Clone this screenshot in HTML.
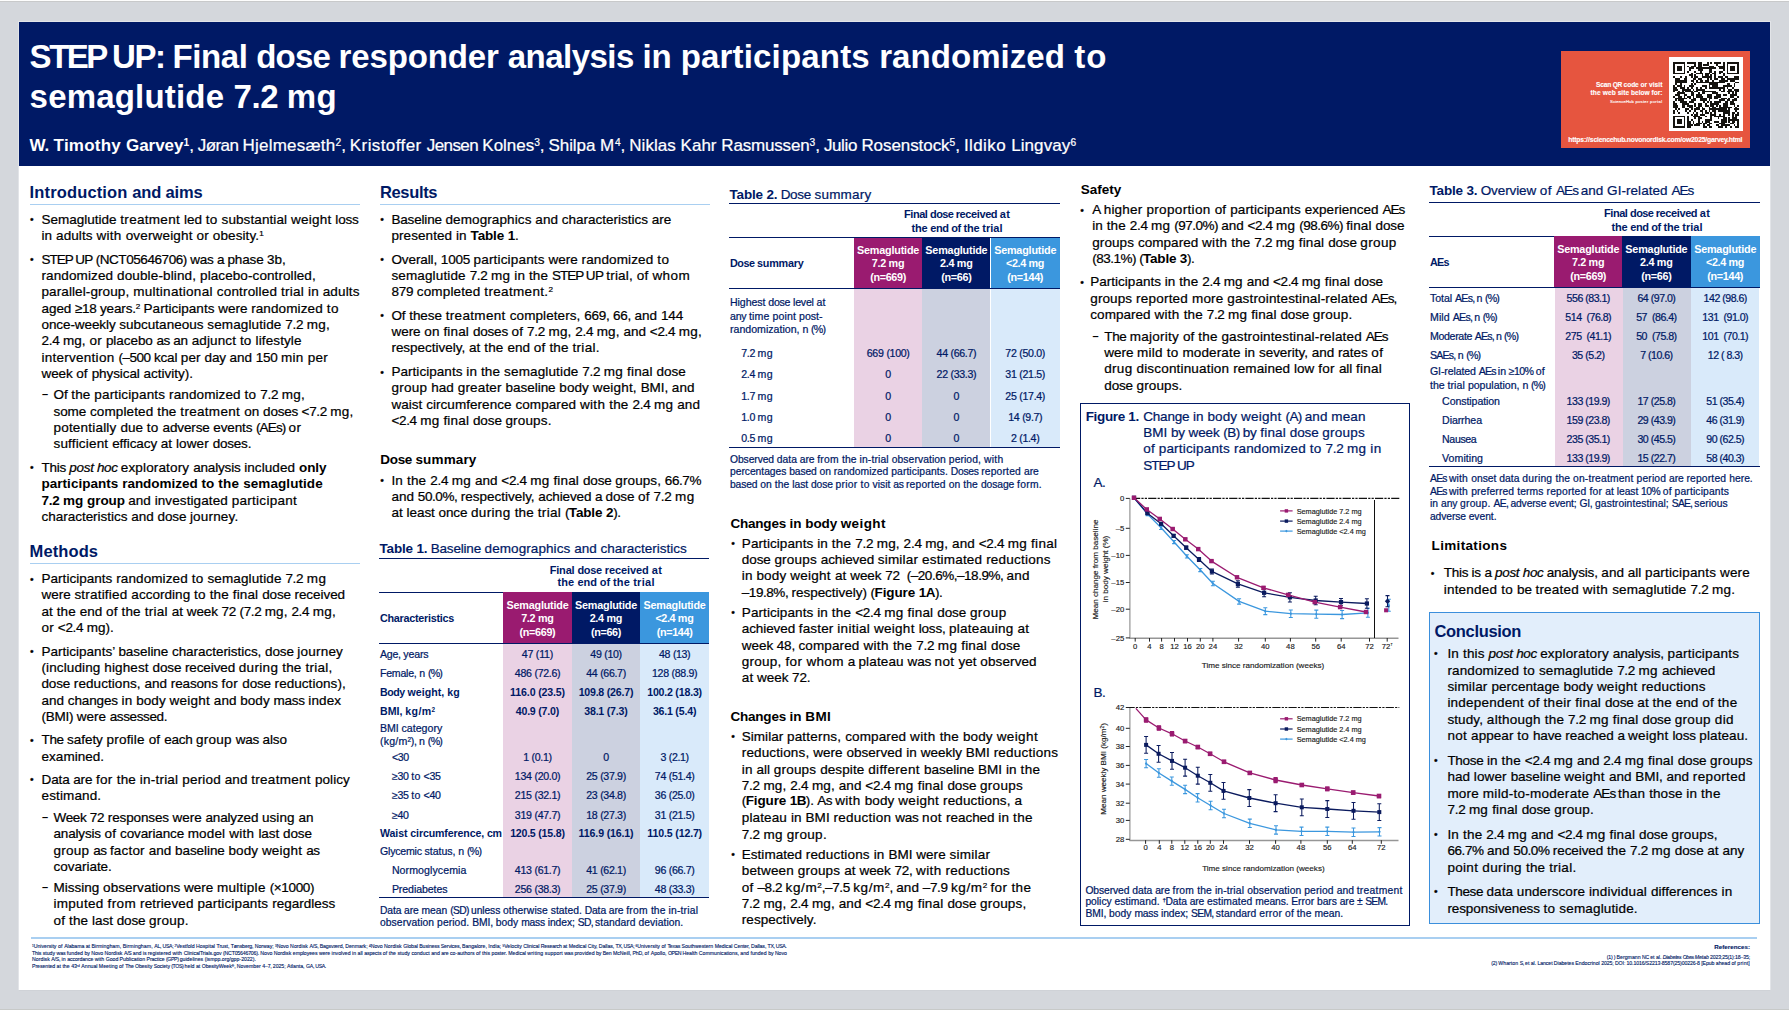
<!DOCTYPE html>
<html lang="en"><head><meta charset="utf-8"><title>STEP UP poster</title>
<style>
html,body{margin:0;padding:0}
body{width:1789px;height:1010px;overflow:hidden;background:#d4d7dc;position:relative;font-family:'Liberation Sans',sans-serif}
.r{position:absolute}
.t{position:absolute;white-space:pre;line-height:1;margin:0}
sup{font-size:60%;vertical-align:baseline;position:relative;top:-0.45em;line-height:0}
svg text{font-family:'Liberation Sans',sans-serif;fill:#1a1a1a;stroke:#1a1a1a;stroke-width:0.15px}
.tk{font-size:7.7px}.ax{font-size:8.1px}.lg{font-size:7.3px}
.k53{letter-spacing:-2.47px}
.k161{letter-spacing:-1.39px}
.k199{letter-spacing:-1.01px}
.k206{letter-spacing:-0.94px}
.k207{letter-spacing:-0.93px}
.k209{letter-spacing:-0.91px}
.k216{letter-spacing:-0.84px}
.k219{letter-spacing:-0.81px}
.k221{letter-spacing:-0.79px}
.k223{letter-spacing:-0.77px}
.k224{letter-spacing:-0.76px}
.k226{letter-spacing:-0.74px}
.k228{letter-spacing:-0.72px}
.k230{letter-spacing:-0.70px}
.k234{letter-spacing:-0.66px}
.k237{letter-spacing:-0.63px}
.k238{letter-spacing:-0.62px}
.k239{letter-spacing:-0.61px}
.k241{letter-spacing:-0.59px}
.k242{letter-spacing:-0.58px}
.k243{letter-spacing:-0.57px}
.k244{letter-spacing:-0.56px}
.k245{letter-spacing:-0.55px}
.k246{letter-spacing:-0.54px}
.k247{letter-spacing:-0.53px}
.k248{letter-spacing:-0.52px}
.k249{letter-spacing:-0.51px}
.k250{letter-spacing:-0.50px}
.k251{letter-spacing:-0.49px}
.k253{letter-spacing:-0.47px}
.k254{letter-spacing:-0.46px}
.k255{letter-spacing:-0.45px}
.k256{letter-spacing:-0.44px}
.k257{letter-spacing:-0.43px}
.k258{letter-spacing:-0.42px}
.k259{letter-spacing:-0.41px}
.k260{letter-spacing:-0.40px}
.k261{letter-spacing:-0.39px}
.k263{letter-spacing:-0.37px}
.k264{letter-spacing:-0.36px}
.k265{letter-spacing:-0.35px}
.k266{letter-spacing:-0.34px}
.k267{letter-spacing:-0.33px}
.k268{letter-spacing:-0.32px}
.k269{letter-spacing:-0.31px}
.k270{letter-spacing:-0.30px}
.k271{letter-spacing:-0.29px}
.k272{letter-spacing:-0.28px}
.k273{letter-spacing:-0.27px}
.k274{letter-spacing:-0.26px}
.k275{letter-spacing:-0.25px}
.k276{letter-spacing:-0.24px}
.k277{letter-spacing:-0.23px}
.k278{letter-spacing:-0.22px}
.k279{letter-spacing:-0.21px}
.k280{letter-spacing:-0.20px}
.k281{letter-spacing:-0.19px}
.k282{letter-spacing:-0.18px}
.k283{letter-spacing:-0.17px}
.k284{letter-spacing:-0.16px}
.k285{letter-spacing:-0.15px}
.k286{letter-spacing:-0.14px}
.k287{letter-spacing:-0.13px}
.k288{letter-spacing:-0.12px}
.k289{letter-spacing:-0.11px}
.k290{letter-spacing:-0.10px}
.k291{letter-spacing:-0.09px}
.k292{letter-spacing:-0.08px}
.k293{letter-spacing:-0.07px}
.k294{letter-spacing:-0.06px}
.k295{letter-spacing:-0.05px}
.k296{letter-spacing:-0.04px}
.k297{letter-spacing:-0.03px}
.k298{letter-spacing:-0.02px}
.k299{letter-spacing:-0.01px}
.k301{letter-spacing:0.01px}
.k302{letter-spacing:0.02px}
.k303{letter-spacing:0.03px}
.k304{letter-spacing:0.04px}
.k305{letter-spacing:0.05px}
.k306{letter-spacing:0.06px}
.k307{letter-spacing:0.07px}
.k308{letter-spacing:0.08px}
.k309{letter-spacing:0.09px}
.k310{letter-spacing:0.10px}
.k311{letter-spacing:0.11px}
.k312{letter-spacing:0.12px}
.k313{letter-spacing:0.13px}
.k314{letter-spacing:0.14px}
.k315{letter-spacing:0.15px}
.k316{letter-spacing:0.16px}
.k317{letter-spacing:0.17px}
.k318{letter-spacing:0.18px}
.k319{letter-spacing:0.19px}
.k320{letter-spacing:0.20px}
.k321{letter-spacing:0.21px}
.k322{letter-spacing:0.22px}
.k323{letter-spacing:0.23px}
.k324{letter-spacing:0.24px}
.k325{letter-spacing:0.25px}
.k326{letter-spacing:0.26px}
.k327{letter-spacing:0.27px}
.k328{letter-spacing:0.28px}
.k329{letter-spacing:0.29px}
.k330{letter-spacing:0.30px}
.k331{letter-spacing:0.31px}
.k332{letter-spacing:0.32px}
.k333{letter-spacing:0.33px}
.k334{letter-spacing:0.34px}
.k335{letter-spacing:0.35px}
.k336{letter-spacing:0.36px}
.k337{letter-spacing:0.37px}
.k338{letter-spacing:0.38px}
.k339{letter-spacing:0.39px}
.k340{letter-spacing:0.40px}
.k341{letter-spacing:0.41px}
.k342{letter-spacing:0.42px}
.k343{letter-spacing:0.43px}
.k345{letter-spacing:0.45px}
.k351{letter-spacing:0.51px}
.k355{letter-spacing:0.55px}
.k356{letter-spacing:0.56px}
.k358{letter-spacing:0.58px}
.k362{letter-spacing:0.62px}
.k364{letter-spacing:0.64px}
.k378{letter-spacing:0.78px}
.k410{letter-spacing:1.10px}
.title{font-size:33px;font-weight:bold;color:#fff;}
.auth{font-size:17px;font-weight:normal;color:#fff;-webkit-text-stroke:0.22px currentColor;}
.h1{font-size:16.5px;font-weight:bold;color:#001965;}
.h2{font-size:13.5px;font-weight:bold;color:#000;}
.body{font-size:13.5px;font-weight:normal;color:#000;-webkit-text-stroke:0.22px currentColor;}
.bul{font-size:10.5px;font-weight:normal;color:#000;-webkit-text-stroke:0.22px currentColor;}
.dash{font-size:11px;font-weight:bold;color:#000;}
.tt{font-size:13.5px;font-weight:normal;color:#001965;-webkit-text-stroke:0.22px currentColor;}
.fig{font-size:13.5px;font-weight:normal;color:#001965;-webkit-text-stroke:0.22px currentColor;}
.thc{font-size:11px;font-weight:bold;color:#001965;}
.th{font-size:10.8px;font-weight:bold;color:#fff;}
.thl{font-size:10.8px;font-weight:bold;color:#001965;}
.td{font-size:10.6px;font-weight:normal;color:#001965;-webkit-text-stroke:0.22px currentColor;}
.tdb{font-size:10.6px;font-weight:bold;color:#001965;}
.fn{font-size:10.3px;font-weight:normal;color:#001965;-webkit-text-stroke:0.22px currentColor;}
.foot{font-size:5.2px;font-weight:normal;color:#001965;-webkit-text-stroke:0.12px currentColor;}
.footb{font-size:6.2px;font-weight:bold;color:#001965;-webkit-text-stroke:0.12px currentColor;}
.qr1{font-size:6.6px;font-weight:bold;color:#fff;-webkit-text-stroke:0.12px currentColor;}
.qr2{font-size:4.2px;font-weight:normal;color:#fff;-webkit-text-stroke:0.12px currentColor;}
.qr3{font-size:6.8px;font-weight:bold;color:#fff;-webkit-text-stroke:0.12px currentColor;}
.t b{-webkit-text-stroke:0}
</style></head><body>
<div class="r" style="left:0;top:0;width:1789px;height:1px;background:#fdfdfd"></div>
<div class="r" style="left:0;top:1px;width:1789px;height:1px;background:#c8c9ca"></div>
<div class="r" style="left:0;top:1008.7px;width:1789px;height:1.3px;background:#c7c9c8"></div>
<div class="r" style="left:18.0px;top:21.0px;width:1753.0px;height:969.0px;background:#e2e4e8;"></div>
<div class="r" style="left:19.0px;top:22.0px;width:1751.0px;height:968.0px;background:#fff;"></div>
<div class="r" style="left:19.0px;top:990.0px;width:1751.0px;height:1.0px;background:#cfd2d7;"></div>
<div class="r" style="left:19.0px;top:22.0px;width:1751.0px;height:144.0px;background:#001965;"></div>
<div class="r" style="left:1561.0px;top:51.0px;width:189.0px;height:97.0px;background:#e6553f;"></div>
<div class="r" style="left:1669.0px;top:57.0px;width:74.0px;height:74.0px;background:#fff;"></div>
<div class="r" style="left:29.5px;top:204.2px;width:330.5px;height:1.1px;background:#a9cff1;"></div>
<div class="r" style="left:29.5px;top:562.8px;width:330.5px;height:1.1px;background:#a9cff1;"></div>
<div class="r" style="left:379.5px;top:204.2px;width:330.5px;height:1.1px;background:#a9cff1;"></div>
<div class="r" style="left:31.3px;top:937.0px;width:1725.5px;height:1.6px;background:#a9cff1;"></div>
<div class="r" style="left:1080.2px;top:403.0px;width:329.6px;height:523.0px;background:transparent;border:1.5px solid #001965;box-sizing:border-box"></div>
<div class="r" style="left:1429.0px;top:612.0px;width:331.2px;height:312.3px;background:#e2eefb;border:1.5px solid #3b8fdc;box-sizing:border-box"></div>
<div class="r" style="left:379.0px;top:558.0px;width:330.0px;height:1.2px;background:#001965;"></div>
<div class="r" style="left:379.0px;top:591.8px;width:330.0px;height:1.2px;background:#001965;"></div>
<div class="r" style="left:503.2px;top:592.4px;width:68.6px;height:50.2px;background:#9a1b70;"></div>
<div class="r" style="left:571.8px;top:592.4px;width:68.4px;height:50.2px;background:#001965;"></div>
<div class="r" style="left:640.2px;top:592.4px;width:68.8px;height:50.2px;background:#3b97de;"></div>
<div class="r" style="left:503.2px;top:643.6px;width:68.6px;height:253.8px;background:#ead2e4;"></div>
<div class="r" style="left:571.8px;top:643.6px;width:68.4px;height:253.8px;background:#ccd1e0;"></div>
<div class="r" style="left:640.2px;top:643.6px;width:68.8px;height:253.8px;background:#d9eafa;"></div>
<div class="r" style="left:379.0px;top:642.6px;width:330.0px;height:1.0px;background:#001965;"></div>
<div class="r" style="left:379.0px;top:896.8px;width:330.0px;height:1.2px;background:#001965;"></div>
<div class="r" style="left:729.0px;top:202.8px;width:331.0px;height:1.2px;background:#001965;"></div>
<div class="r" style="left:729.0px;top:237.0px;width:331.0px;height:1.2px;background:#001965;"></div>
<div class="r" style="left:854.0px;top:237.6px;width:68.3px;height:50.2px;background:#9a1b70;"></div>
<div class="r" style="left:922.3px;top:237.6px;width:68.2px;height:50.2px;background:#001965;"></div>
<div class="r" style="left:990.5px;top:237.6px;width:69.5px;height:50.2px;background:#3b97de;"></div>
<div class="r" style="left:854.0px;top:288.8px;width:68.3px;height:158.4px;background:#ead2e4;"></div>
<div class="r" style="left:922.3px;top:288.8px;width:68.2px;height:158.4px;background:#ccd1e0;"></div>
<div class="r" style="left:990.5px;top:288.8px;width:69.5px;height:158.4px;background:#d9eafa;"></div>
<div class="r" style="left:729.0px;top:287.8px;width:331.0px;height:1.0px;background:#001965;"></div>
<div class="r" style="left:729.0px;top:446.6px;width:331.0px;height:1.2px;background:#001965;"></div>
<div class="r" style="left:1429.0px;top:202.0px;width:330.6px;height:1.2px;background:#001965;"></div>
<div class="r" style="left:1429.0px;top:235.6px;width:330.6px;height:1.2px;background:#001965;"></div>
<div class="r" style="left:1554.4px;top:236.2px;width:67.6px;height:50.9px;background:#9a1b70;"></div>
<div class="r" style="left:1622.0px;top:236.2px;width:68.8px;height:50.9px;background:#001965;"></div>
<div class="r" style="left:1690.8px;top:236.2px;width:68.8px;height:50.9px;background:#3b97de;"></div>
<div class="r" style="left:1555.2px;top:288.1px;width:67.7px;height:178.5px;background:#ead2e4;"></div>
<div class="r" style="left:1622.9px;top:288.1px;width:67.8px;height:178.5px;background:#ccd1e0;"></div>
<div class="r" style="left:1690.7px;top:288.1px;width:68.6px;height:178.5px;background:#d9eafa;"></div>
<div class="r" style="left:1429.0px;top:287.1px;width:330.6px;height:1.0px;background:#001965;"></div>
<div class="r" style="left:1429.0px;top:466.0px;width:330.6px;height:1.2px;background:#001965;"></div>
<svg class="r" style="left:0;top:0" width="1789" height="1010" viewBox="0 0 1789 1010">
<path d="M1129.9 498.4V638.6" fill="none" stroke="#8a8a8a" stroke-width="1.1"/>
<path d="M1129.4 638.2H1398.5" fill="none" stroke="#969696" stroke-width="1.5"/>
<path d="M1132 498.4H1399.3" stroke="#111" stroke-width="1.2" stroke-dasharray="8.2 1.2 2.2 1.2 2.2 1.2"/>
<path d="M1374.5 500V638" stroke="#111" stroke-width="1"/>
<path d="M1125.8 498.4h4" stroke="#222" stroke-width="1"/>
<text x="1124.2" y="501.0" class="tk" text-anchor="end">0</text>
<path d="M1125.8 528.3h4" stroke="#222" stroke-width="1"/>
<text x="1124.2" y="530.9" class="tk" text-anchor="end">–5</text>
<path d="M1125.8 555.4h4" stroke="#222" stroke-width="1"/>
<text x="1124.2" y="558.0" class="tk" text-anchor="end">–10</text>
<path d="M1125.8 582.5h4" stroke="#222" stroke-width="1"/>
<text x="1124.2" y="585.1" class="tk" text-anchor="end">–15</text>
<path d="M1125.8 609.2h4" stroke="#222" stroke-width="1"/>
<text x="1124.2" y="611.8" class="tk" text-anchor="end">–20</text>
<path d="M1125.8 637.9h4" stroke="#222" stroke-width="1"/>
<text x="1124.2" y="640.5" class="tk" text-anchor="end">–25</text>
<path d="M1135.2 638v3.6" stroke="#222" stroke-width="1"/>
<text x="1135.2" y="648.6" class="tk" text-anchor="middle">0</text>
<path d="M1149.5 638v3.6" stroke="#222" stroke-width="1"/>
<text x="1149.5" y="648.6" class="tk" text-anchor="middle">4</text>
<path d="M1161.6 638v3.6" stroke="#222" stroke-width="1"/>
<text x="1161.6" y="648.6" class="tk" text-anchor="middle">8</text>
<path d="M1174.5 638v3.6" stroke="#222" stroke-width="1"/>
<text x="1174.5" y="648.6" class="tk" text-anchor="middle">12</text>
<path d="M1187.5 638v3.6" stroke="#222" stroke-width="1"/>
<text x="1187.5" y="648.6" class="tk" text-anchor="middle">16</text>
<path d="M1200.3 638v3.6" stroke="#222" stroke-width="1"/>
<text x="1200.3" y="648.6" class="tk" text-anchor="middle">20</text>
<path d="M1212.9 638v3.6" stroke="#222" stroke-width="1"/>
<text x="1212.9" y="648.6" class="tk" text-anchor="middle">24</text>
<path d="M1238.6 638v3.6" stroke="#222" stroke-width="1"/>
<text x="1238.6" y="648.6" class="tk" text-anchor="middle">32</text>
<path d="M1265.3 638v3.6" stroke="#222" stroke-width="1"/>
<text x="1265.3" y="648.6" class="tk" text-anchor="middle">40</text>
<path d="M1290.4 638v3.6" stroke="#222" stroke-width="1"/>
<text x="1290.4" y="648.6" class="tk" text-anchor="middle">48</text>
<path d="M1315.7 638v3.6" stroke="#222" stroke-width="1"/>
<text x="1315.7" y="648.6" class="tk" text-anchor="middle">56</text>
<path d="M1341.2 638v3.6" stroke="#222" stroke-width="1"/>
<text x="1341.2" y="648.6" class="tk" text-anchor="middle">64</text>
<path d="M1369.5 638v3.6" stroke="#222" stroke-width="1"/>
<text x="1369.5" y="648.6" class="tk" text-anchor="middle">72</text>
<path d="M1387.2 638v3.6" stroke="#222" stroke-width="1"/>
<text x="1387.2" y="648.6" class="tk" text-anchor="middle">72<tspan dy="-2.2" font-size="3.8">†</tspan></text>
<text x="1263" y="668" class="ax" text-anchor="middle">Time since randomization (weeks)</text>
<text transform="translate(1098.3 569.5) rotate(-90)" class="ax" text-anchor="middle">Mean change from baseline</text>
<text transform="translate(1108 569) rotate(-90)" class="ax" text-anchor="middle">in body weight (%)</text>
<path d="M1134.0 497.8 L1147.7 514.4 L1161.1 527.8 L1174.1 542.0 L1186.9 556.3 L1200.3 570.0 L1212.9 583.5 L1239.1 601.4 L1265.3 611.2 L1290.8 613.7 L1316.3 614.2 L1342.1 614.5 L1367.9 612.8" fill="none" stroke="#3b97de" stroke-width="1.3" stroke-linejoin="round"/>
<path d="M1132.7 497.8L1134.0 496.2L1135.3 497.8L1134.0 499.4Z" fill="#3b97de"/>
<path d="M1147.7 513.2V515.6M1145.7 513.2h4M1145.7 515.6h4" stroke="#3b97de" stroke-width="1.05" fill="none"/>
<path d="M1146.4 514.4L1147.7 512.8L1149.0 514.4L1147.7 516.0Z" fill="#3b97de"/>
<path d="M1161.1 526.2V529.4M1159.1 526.2h4M1159.1 529.4h4" stroke="#3b97de" stroke-width="1.05" fill="none"/>
<path d="M1159.8 527.8L1161.1 526.2L1162.4 527.8L1161.1 529.4Z" fill="#3b97de"/>
<path d="M1174.1 540.4V543.6M1172.1 540.4h4M1172.1 543.6h4" stroke="#3b97de" stroke-width="1.05" fill="none"/>
<path d="M1172.8 542.0L1174.1 540.4L1175.4 542.0L1174.1 543.6Z" fill="#3b97de"/>
<path d="M1186.9 554.7V557.9M1184.9 554.7h4M1184.9 557.9h4" stroke="#3b97de" stroke-width="1.05" fill="none"/>
<path d="M1185.6 556.3L1186.9 554.7L1188.2 556.3L1186.9 557.9Z" fill="#3b97de"/>
<path d="M1200.3 568.4V571.6M1198.3 568.4h4M1198.3 571.6h4" stroke="#3b97de" stroke-width="1.05" fill="none"/>
<path d="M1199.0 570.0L1200.3 568.4L1201.6 570.0L1200.3 571.6Z" fill="#3b97de"/>
<path d="M1212.9 581.3V585.7M1210.9 581.3h4M1210.9 585.7h4" stroke="#3b97de" stroke-width="1.05" fill="none"/>
<path d="M1211.6 583.5L1212.9 581.9L1214.2 583.5L1212.9 585.1Z" fill="#3b97de"/>
<path d="M1239.1 598.7V604.1M1237.1 598.7h4M1237.1 604.1h4" stroke="#3b97de" stroke-width="1.05" fill="none"/>
<path d="M1237.8 601.4L1239.1 599.8L1240.4 601.4L1239.1 603.0Z" fill="#3b97de"/>
<path d="M1265.3 607.8V614.6M1263.3 607.8h4M1263.3 614.6h4" stroke="#3b97de" stroke-width="1.05" fill="none"/>
<path d="M1264.0 611.2L1265.3 609.6L1266.6 611.2L1265.3 612.8Z" fill="#3b97de"/>
<path d="M1290.8 609.9V617.5M1288.8 609.9h4M1288.8 617.5h4" stroke="#3b97de" stroke-width="1.05" fill="none"/>
<path d="M1289.5 613.7L1290.8 612.1L1292.1 613.7L1290.8 615.3Z" fill="#3b97de"/>
<path d="M1316.3 610.1V618.3M1314.3 610.1h4M1314.3 618.3h4" stroke="#3b97de" stroke-width="1.05" fill="none"/>
<path d="M1315.0 614.2L1316.3 612.6L1317.6 614.2L1316.3 615.8Z" fill="#3b97de"/>
<path d="M1342.1 610.4V618.6M1340.1 610.4h4M1340.1 618.6h4" stroke="#3b97de" stroke-width="1.05" fill="none"/>
<path d="M1340.8 614.5L1342.1 612.9L1343.4 614.5L1342.1 616.1Z" fill="#3b97de"/>
<path d="M1367.9 608.3V617.3M1365.9 608.3h4M1365.9 617.3h4" stroke="#3b97de" stroke-width="1.05" fill="none"/>
<path d="M1366.6 612.8L1367.9 611.2L1369.2 612.8L1367.9 614.4Z" fill="#3b97de"/>
<path d="M1134.0 497.8 L1147.4 513.2 L1161.1 523.8 L1173.6 535.8 L1186.2 547.7 L1199.0 559.5 L1211.9 571.4 L1237.9 583.9 L1264.1 592.8 L1289.9 597.3 L1315.7 600.5 L1341.0 602.1 L1366.9 603.5" fill="none" stroke="#0b1b5e" stroke-width="1.3" stroke-linejoin="round"/>
<rect x="1131.9" y="495.7" width="4.2" height="4.2" fill="#0b1b5e"/>
<path d="M1147.4 512.3V514.1M1145.4 512.3h4M1145.4 514.1h4" stroke="#0b1b5e" stroke-width="1.05" fill="none"/>
<rect x="1145.3" y="511.1" width="4.2" height="4.2" fill="#0b1b5e"/>
<path d="M1161.1 522.6V525.0M1159.1 522.6h4M1159.1 525.0h4" stroke="#0b1b5e" stroke-width="1.05" fill="none"/>
<rect x="1159.0" y="521.7" width="4.2" height="4.2" fill="#0b1b5e"/>
<path d="M1173.6 534.4V537.2M1171.6 534.4h4M1171.6 537.2h4" stroke="#0b1b5e" stroke-width="1.05" fill="none"/>
<rect x="1171.5" y="533.7" width="4.2" height="4.2" fill="#0b1b5e"/>
<path d="M1186.2 546.1V549.3M1184.2 546.1h4M1184.2 549.3h4" stroke="#0b1b5e" stroke-width="1.05" fill="none"/>
<rect x="1184.1" y="545.6" width="4.2" height="4.2" fill="#0b1b5e"/>
<path d="M1199.0 557.5V561.5M1197.0 557.5h4M1197.0 561.5h4" stroke="#0b1b5e" stroke-width="1.05" fill="none"/>
<rect x="1196.9" y="557.4" width="4.2" height="4.2" fill="#0b1b5e"/>
<path d="M1211.9 568.9V573.9M1209.9 568.9h4M1209.9 573.9h4" stroke="#0b1b5e" stroke-width="1.05" fill="none"/>
<rect x="1209.8" y="569.3" width="4.2" height="4.2" fill="#0b1b5e"/>
<path d="M1237.9 580.7V587.1M1235.9 580.7h4M1235.9 587.1h4" stroke="#0b1b5e" stroke-width="1.05" fill="none"/>
<rect x="1235.8" y="581.8" width="4.2" height="4.2" fill="#0b1b5e"/>
<path d="M1264.1 588.9V596.7M1262.1 588.9h4M1262.1 596.7h4" stroke="#0b1b5e" stroke-width="1.05" fill="none"/>
<rect x="1262.0" y="590.7" width="4.2" height="4.2" fill="#0b1b5e"/>
<path d="M1289.9 592.7V601.9M1287.9 592.7h4M1287.9 601.9h4" stroke="#0b1b5e" stroke-width="1.05" fill="none"/>
<rect x="1287.8" y="595.2" width="4.2" height="4.2" fill="#0b1b5e"/>
<path d="M1315.7 596.2V604.8M1313.7 596.2h4M1313.7 604.8h4" stroke="#0b1b5e" stroke-width="1.05" fill="none"/>
<rect x="1313.6" y="598.4" width="4.2" height="4.2" fill="#0b1b5e"/>
<path d="M1341.0 598.5V605.7M1339.0 598.5h4M1339.0 605.7h4" stroke="#0b1b5e" stroke-width="1.05" fill="none"/>
<rect x="1338.9" y="600.0" width="4.2" height="4.2" fill="#0b1b5e"/>
<path d="M1366.9 598.7V608.3M1364.9 598.7h4M1364.9 608.3h4" stroke="#0b1b5e" stroke-width="1.05" fill="none"/>
<rect x="1364.8" y="601.4" width="4.2" height="4.2" fill="#0b1b5e"/>
<path d="M1134.0 497.8 L1146.8 509.4 L1159.8 518.9 L1172.7 529.0 L1185.3 539.3 L1198.2 549.1 L1211.5 561.1 L1237.0 577.3 L1263.5 587.8 L1288.1 594.9 L1314.8 602.1 L1340.1 607.1 L1366.0 612.0" fill="none" stroke="#9a1b70" stroke-width="1.3" stroke-linejoin="round"/>
<rect x="1131.8" y="495.6" width="4.4" height="4.4" fill="#9a1b70"/>
<path d="M1146.8 508.7V510.1M1144.8 508.7h4M1144.8 510.1h4" stroke="#9a1b70" stroke-width="1.05" fill="none"/>
<rect x="1144.6" y="507.2" width="4.4" height="4.4" fill="#9a1b70"/>
<path d="M1159.8 518.1V519.7M1157.8 518.1h4M1157.8 519.7h4" stroke="#9a1b70" stroke-width="1.05" fill="none"/>
<rect x="1157.6" y="516.7" width="4.4" height="4.4" fill="#9a1b70"/>
<path d="M1172.7 528.1V529.9M1170.7 528.1h4M1170.7 529.9h4" stroke="#9a1b70" stroke-width="1.05" fill="none"/>
<rect x="1170.5" y="526.8" width="4.4" height="4.4" fill="#9a1b70"/>
<path d="M1185.3 538.3V540.3M1183.3 538.3h4M1183.3 540.3h4" stroke="#9a1b70" stroke-width="1.05" fill="none"/>
<rect x="1183.1" y="537.1" width="4.4" height="4.4" fill="#9a1b70"/>
<path d="M1198.2 548.1V550.1M1196.2 548.1h4M1196.2 550.1h4" stroke="#9a1b70" stroke-width="1.05" fill="none"/>
<rect x="1196.0" y="546.9" width="4.4" height="4.4" fill="#9a1b70"/>
<path d="M1211.5 560.1V562.1M1209.5 560.1h4M1209.5 562.1h4" stroke="#9a1b70" stroke-width="1.05" fill="none"/>
<rect x="1209.3" y="558.9" width="4.4" height="4.4" fill="#9a1b70"/>
<path d="M1237.0 576.3V578.3M1235.0 576.3h4M1235.0 578.3h4" stroke="#9a1b70" stroke-width="1.05" fill="none"/>
<rect x="1234.8" y="575.1" width="4.4" height="4.4" fill="#9a1b70"/>
<path d="M1263.5 586.4V589.2M1261.5 586.4h4M1261.5 589.2h4" stroke="#9a1b70" stroke-width="1.05" fill="none"/>
<rect x="1261.3" y="585.6" width="4.4" height="4.4" fill="#9a1b70"/>
<path d="M1288.1 593.5V596.3M1286.1 593.5h4M1286.1 596.3h4" stroke="#9a1b70" stroke-width="1.05" fill="none"/>
<rect x="1285.9" y="592.7" width="4.4" height="4.4" fill="#9a1b70"/>
<path d="M1314.8 600.7V603.5M1312.8 600.7h4M1312.8 603.5h4" stroke="#9a1b70" stroke-width="1.05" fill="none"/>
<rect x="1312.6" y="599.9" width="4.4" height="4.4" fill="#9a1b70"/>
<path d="M1340.1 605.7V608.5M1338.1 605.7h4M1338.1 608.5h4" stroke="#9a1b70" stroke-width="1.05" fill="none"/>
<rect x="1337.9" y="604.9" width="4.4" height="4.4" fill="#9a1b70"/>
<path d="M1366.0 610.6V613.4M1364.0 610.6h4M1364.0 613.4h4" stroke="#9a1b70" stroke-width="1.05" fill="none"/>
<rect x="1363.8" y="609.8" width="4.4" height="4.4" fill="#9a1b70"/>
<path d="M1388.8 605.3" fill="none" stroke="#3b97de" stroke-width="1.3" stroke-linejoin="round"/>
<path d="M1388.8 599.3V611.3M1386.8 599.3h4M1386.8 611.3h4" stroke="#3b97de" stroke-width="1.05" fill="none"/>
<path d="M1387.5 605.3L1388.8 603.7L1390.1 605.3L1388.8 606.9Z" fill="#3b97de"/>
<path d="M1387.5 601.2" fill="none" stroke="#0b1b5e" stroke-width="1.3" stroke-linejoin="round"/>
<path d="M1387.5 595.6V606.8M1385.5 595.6h4M1385.5 606.8h4" stroke="#0b1b5e" stroke-width="1.05" fill="none"/>
<path d="M1384.8 601.2L1387.5 598.5L1390.2 601.2L1387.5 603.9Z" fill="#0b1b5e"/>
<path d="M1386.1 610.3" fill="none" stroke="#9a1b70" stroke-width="1.3" stroke-linejoin="round"/>
<rect x="1384.1" y="608.3" width="4" height="4" fill="#9a1b70"/>
<path d="M1280.1 510.9h12.5" stroke="#9a1b70" stroke-width="1.2"/>
<rect x="1284.7" y="509.2" width="3.4" height="3.4" fill="#9a1b70"/>
<text x="1296.7" y="513.5" class="lg">Semaglutide 7.2 mg</text>
<path d="M1280.1 521.1h12.5" stroke="#0b1b5e" stroke-width="1.2"/>
<rect x="1284.7" y="519.4" width="3.4" height="3.4" fill="#0b1b5e"/>
<text x="1296.7" y="523.7" class="lg">Semaglutide 2.4 mg</text>
<path d="M1280.1 531.1h12.5" stroke="#3b97de" stroke-width="1.2"/>
<path d="M1285.1 531.1l1.3 -1.4l1.3 1.4l-1.3 1.4Z" fill="#3b97de"/>
<text x="1296.7" y="533.7" class="lg">Semaglutide &lt;2.4 mg</text>
<path d="M1129.9 707.5V840.9" fill="none" stroke="#8a8a8a" stroke-width="1.1"/>
<path d="M1129.4 840.5H1398.5" fill="none" stroke="#969696" stroke-width="1.5"/>
<path d="M1126.5 707.5H1399.3" stroke="#111" stroke-width="1.2" stroke-dasharray="8.2 1.2 2.2 1.2 2.2 1.2"/>
<path d="M1125.8 707.5h4" stroke="#222" stroke-width="1"/>
<text x="1124.2" y="710.1" class="tk" text-anchor="end">42</text>
<path d="M1125.8 728.3h4" stroke="#222" stroke-width="1"/>
<text x="1124.2" y="730.9" class="tk" text-anchor="end">40</text>
<path d="M1125.8 746.5h4" stroke="#222" stroke-width="1"/>
<text x="1124.2" y="749.1" class="tk" text-anchor="end">38</text>
<path d="M1125.8 765.4h4" stroke="#222" stroke-width="1"/>
<text x="1124.2" y="768.0" class="tk" text-anchor="end">36</text>
<path d="M1125.8 784.1h4" stroke="#222" stroke-width="1"/>
<text x="1124.2" y="786.7" class="tk" text-anchor="end">34</text>
<path d="M1125.8 803.2h4" stroke="#222" stroke-width="1"/>
<text x="1124.2" y="805.8" class="tk" text-anchor="end">32</text>
<path d="M1125.8 820.4h4" stroke="#222" stroke-width="1"/>
<text x="1124.2" y="823.0" class="tk" text-anchor="end">30</text>
<path d="M1125.8 839.3h4" stroke="#222" stroke-width="1"/>
<text x="1124.2" y="841.9" class="tk" text-anchor="end">28</text>
<path d="M1145.6 840.2v3.6" stroke="#222" stroke-width="1"/>
<text x="1145.6" y="850.4" class="tk" text-anchor="middle">0</text>
<path d="M1159.3 840.2v3.6" stroke="#222" stroke-width="1"/>
<text x="1159.3" y="850.4" class="tk" text-anchor="middle">4</text>
<path d="M1171.8 840.2v3.6" stroke="#222" stroke-width="1"/>
<text x="1171.8" y="850.4" class="tk" text-anchor="middle">8</text>
<path d="M1184.8 840.2v3.6" stroke="#222" stroke-width="1"/>
<text x="1184.8" y="850.4" class="tk" text-anchor="middle">12</text>
<path d="M1197.8 840.2v3.6" stroke="#222" stroke-width="1"/>
<text x="1197.8" y="850.4" class="tk" text-anchor="middle">16</text>
<path d="M1210.3 840.2v3.6" stroke="#222" stroke-width="1"/>
<text x="1210.3" y="850.4" class="tk" text-anchor="middle">20</text>
<path d="M1223.5 840.2v3.6" stroke="#222" stroke-width="1"/>
<text x="1223.5" y="850.4" class="tk" text-anchor="middle">24</text>
<path d="M1249.5 840.2v3.6" stroke="#222" stroke-width="1"/>
<text x="1249.5" y="850.4" class="tk" text-anchor="middle">32</text>
<path d="M1275.6 840.2v3.6" stroke="#222" stroke-width="1"/>
<text x="1275.6" y="850.4" class="tk" text-anchor="middle">40</text>
<path d="M1300.9 840.2v3.6" stroke="#222" stroke-width="1"/>
<text x="1300.9" y="850.4" class="tk" text-anchor="middle">48</text>
<path d="M1327.3 840.2v3.6" stroke="#222" stroke-width="1"/>
<text x="1327.3" y="850.4" class="tk" text-anchor="middle">56</text>
<path d="M1352.3 840.2v3.6" stroke="#222" stroke-width="1"/>
<text x="1352.3" y="850.4" class="tk" text-anchor="middle">64</text>
<path d="M1381.3 840.2v3.6" stroke="#222" stroke-width="1"/>
<text x="1381.3" y="850.4" class="tk" text-anchor="middle">72</text>
<text x="1263.4" y="871" class="ax" text-anchor="middle">Time since randomization (weeks)</text>
<text transform="translate(1106.4 769) rotate(-90)" class="ax" text-anchor="middle">Mean weekly BMI (kg/m<tspan dy="-2.4" font-size="4.8">2</tspan><tspan dy="2.4">)</tspan></text>
<path d="M1146.1 763.6 L1158.9 773.0 L1171.8 781.1 L1185.1 789.4 L1197.6 797.8 L1210.6 805.5 L1224.0 813.5 L1249.8 823.3 L1276.0 829.9 L1301.5 831.3 L1327.3 831.3 L1353.5 832.2 L1379.5 831.8" fill="none" stroke="#3b97de" stroke-width="1.3" stroke-linejoin="round"/>
<path d="M1146.1 759.4V767.8M1144.1 759.4h4M1144.1 767.8h4" stroke="#3b97de" stroke-width="1.05" fill="none"/>
<path d="M1144.8 763.6L1146.1 762.0L1147.4 763.6L1146.1 765.2Z" fill="#3b97de"/>
<path d="M1158.9 768.8V777.2M1156.9 768.8h4M1156.9 777.2h4" stroke="#3b97de" stroke-width="1.05" fill="none"/>
<path d="M1157.6 773.0L1158.9 771.4L1160.2 773.0L1158.9 774.6Z" fill="#3b97de"/>
<path d="M1171.8 776.9V785.3M1169.8 776.9h4M1169.8 785.3h4" stroke="#3b97de" stroke-width="1.05" fill="none"/>
<path d="M1170.5 781.1L1171.8 779.5L1173.1 781.1L1171.8 782.7Z" fill="#3b97de"/>
<path d="M1185.1 785.2V793.6M1183.1 785.2h4M1183.1 793.6h4" stroke="#3b97de" stroke-width="1.05" fill="none"/>
<path d="M1183.8 789.4L1185.1 787.8L1186.4 789.4L1185.1 791.0Z" fill="#3b97de"/>
<path d="M1197.6 793.6V802.0M1195.6 793.6h4M1195.6 802.0h4" stroke="#3b97de" stroke-width="1.05" fill="none"/>
<path d="M1196.3 797.8L1197.6 796.2L1198.9 797.8L1197.6 799.4Z" fill="#3b97de"/>
<path d="M1210.6 801.3V809.7M1208.6 801.3h4M1208.6 809.7h4" stroke="#3b97de" stroke-width="1.05" fill="none"/>
<path d="M1209.3 805.5L1210.6 803.9L1211.9 805.5L1210.6 807.1Z" fill="#3b97de"/>
<path d="M1224.0 809.3V817.7M1222.0 809.3h4M1222.0 817.7h4" stroke="#3b97de" stroke-width="1.05" fill="none"/>
<path d="M1222.7 813.5L1224.0 811.9L1225.3 813.5L1224.0 815.1Z" fill="#3b97de"/>
<path d="M1249.8 819.1V827.5M1247.8 819.1h4M1247.8 827.5h4" stroke="#3b97de" stroke-width="1.05" fill="none"/>
<path d="M1248.5 823.3L1249.8 821.7L1251.1 823.3L1249.8 824.9Z" fill="#3b97de"/>
<path d="M1276.0 825.7V834.1M1274.0 825.7h4M1274.0 834.1h4" stroke="#3b97de" stroke-width="1.05" fill="none"/>
<path d="M1274.7 829.9L1276.0 828.3L1277.3 829.9L1276.0 831.5Z" fill="#3b97de"/>
<path d="M1301.5 827.1V835.5M1299.5 827.1h4M1299.5 835.5h4" stroke="#3b97de" stroke-width="1.05" fill="none"/>
<path d="M1300.2 831.3L1301.5 829.7L1302.8 831.3L1301.5 832.9Z" fill="#3b97de"/>
<path d="M1327.3 827.1V835.5M1325.3 827.1h4M1325.3 835.5h4" stroke="#3b97de" stroke-width="1.05" fill="none"/>
<path d="M1326.0 831.3L1327.3 829.7L1328.6 831.3L1327.3 832.9Z" fill="#3b97de"/>
<path d="M1353.5 828.0V836.4M1351.5 828.0h4M1351.5 836.4h4" stroke="#3b97de" stroke-width="1.05" fill="none"/>
<path d="M1352.2 832.2L1353.5 830.6L1354.8 832.2L1353.5 833.8Z" fill="#3b97de"/>
<path d="M1379.5 827.6V836.0M1377.5 827.6h4M1377.5 836.0h4" stroke="#3b97de" stroke-width="1.05" fill="none"/>
<path d="M1378.2 831.8L1379.5 830.2L1380.8 831.8L1379.5 833.4Z" fill="#3b97de"/>
<path d="M1146.1 744.9 L1158.6 753.8 L1172.0 760.9 L1185.1 767.7 L1197.8 775.7 L1210.3 782.8 L1223.5 790.9 L1249.3 798.0 L1275.6 803.2 L1301.8 807.3 L1327.3 809.0 L1353.5 810.8 L1379.3 812.1" fill="none" stroke="#0b1b5e" stroke-width="1.3" stroke-linejoin="round"/>
<path d="M1146.1 736.5V753.3M1144.1 736.5h4M1144.1 753.3h4" stroke="#0b1b5e" stroke-width="1.05" fill="none"/>
<rect x="1144.1" y="742.9" width="4" height="4" fill="#0b1b5e"/>
<path d="M1158.6 745.4V762.2M1156.6 745.4h4M1156.6 762.2h4" stroke="#0b1b5e" stroke-width="1.05" fill="none"/>
<rect x="1156.6" y="751.8" width="4" height="4" fill="#0b1b5e"/>
<path d="M1172.0 752.5V769.3M1170.0 752.5h4M1170.0 769.3h4" stroke="#0b1b5e" stroke-width="1.05" fill="none"/>
<rect x="1170.0" y="758.9" width="4" height="4" fill="#0b1b5e"/>
<path d="M1185.1 759.3V776.1M1183.1 759.3h4M1183.1 776.1h4" stroke="#0b1b5e" stroke-width="1.05" fill="none"/>
<rect x="1183.1" y="765.7" width="4" height="4" fill="#0b1b5e"/>
<path d="M1197.8 767.3V784.1M1195.8 767.3h4M1195.8 784.1h4" stroke="#0b1b5e" stroke-width="1.05" fill="none"/>
<rect x="1195.8" y="773.7" width="4" height="4" fill="#0b1b5e"/>
<path d="M1210.3 774.4V791.2M1208.3 774.4h4M1208.3 791.2h4" stroke="#0b1b5e" stroke-width="1.05" fill="none"/>
<rect x="1208.3" y="780.8" width="4" height="4" fill="#0b1b5e"/>
<path d="M1223.5 782.5V799.3M1221.5 782.5h4M1221.5 799.3h4" stroke="#0b1b5e" stroke-width="1.05" fill="none"/>
<rect x="1221.5" y="788.9" width="4" height="4" fill="#0b1b5e"/>
<path d="M1249.3 789.6V806.4M1247.3 789.6h4M1247.3 806.4h4" stroke="#0b1b5e" stroke-width="1.05" fill="none"/>
<rect x="1247.3" y="796.0" width="4" height="4" fill="#0b1b5e"/>
<path d="M1275.6 794.8V811.6M1273.6 794.8h4M1273.6 811.6h4" stroke="#0b1b5e" stroke-width="1.05" fill="none"/>
<rect x="1273.6" y="801.2" width="4" height="4" fill="#0b1b5e"/>
<path d="M1301.8 798.9V815.7M1299.8 798.9h4M1299.8 815.7h4" stroke="#0b1b5e" stroke-width="1.05" fill="none"/>
<rect x="1299.8" y="805.3" width="4" height="4" fill="#0b1b5e"/>
<path d="M1327.3 800.6V817.4M1325.3 800.6h4M1325.3 817.4h4" stroke="#0b1b5e" stroke-width="1.05" fill="none"/>
<rect x="1325.3" y="807.0" width="4" height="4" fill="#0b1b5e"/>
<path d="M1353.5 802.4V819.2M1351.5 802.4h4M1351.5 819.2h4" stroke="#0b1b5e" stroke-width="1.05" fill="none"/>
<rect x="1351.5" y="808.8" width="4" height="4" fill="#0b1b5e"/>
<path d="M1379.3 803.7V820.5M1377.3 803.7h4M1377.3 820.5h4" stroke="#0b1b5e" stroke-width="1.05" fill="none"/>
<rect x="1377.3" y="810.1" width="4" height="4" fill="#0b1b5e"/>
<path d="M1135.8 708.4 L1146.1 719.9 L1158.9 728.0 L1172.0 733.8 L1185.1 741.0 L1197.8 747.0 L1210.1 753.8 L1224.0 761.8 L1249.8 772.9 L1275.6 780.0 L1301.8 785.0 L1327.3 788.9 L1353.2 792.6 L1379.0 796.0" fill="none" stroke="#9a1b70" stroke-width="1.3" stroke-linejoin="round"/>
<path d="M1146.1 717.7V722.1M1144.1 717.7h4M1144.1 722.1h4" stroke="#9a1b70" stroke-width="1.05" fill="none"/>
<rect x="1143.8" y="717.6" width="4.6" height="4.6" fill="#9a1b70"/>
<path d="M1158.9 725.8V730.2M1156.9 725.8h4M1156.9 730.2h4" stroke="#9a1b70" stroke-width="1.05" fill="none"/>
<rect x="1156.6" y="725.7" width="4.6" height="4.6" fill="#9a1b70"/>
<path d="M1172.0 731.6V736.0M1170.0 731.6h4M1170.0 736.0h4" stroke="#9a1b70" stroke-width="1.05" fill="none"/>
<rect x="1169.7" y="731.5" width="4.6" height="4.6" fill="#9a1b70"/>
<path d="M1185.1 739.4V742.6M1183.1 739.4h4M1183.1 742.6h4" stroke="#9a1b70" stroke-width="1.05" fill="none"/>
<rect x="1182.8" y="738.7" width="4.6" height="4.6" fill="#9a1b70"/>
<path d="M1197.8 745.4V748.6M1195.8 745.4h4M1195.8 748.6h4" stroke="#9a1b70" stroke-width="1.05" fill="none"/>
<rect x="1195.5" y="744.7" width="4.6" height="4.6" fill="#9a1b70"/>
<path d="M1210.1 752.2V755.4M1208.1 752.2h4M1208.1 755.4h4" stroke="#9a1b70" stroke-width="1.05" fill="none"/>
<rect x="1207.8" y="751.5" width="4.6" height="4.6" fill="#9a1b70"/>
<path d="M1224.0 760.2V763.4M1222.0 760.2h4M1222.0 763.4h4" stroke="#9a1b70" stroke-width="1.05" fill="none"/>
<rect x="1221.7" y="759.5" width="4.6" height="4.6" fill="#9a1b70"/>
<path d="M1249.8 771.5V774.3M1247.8 771.5h4M1247.8 774.3h4" stroke="#9a1b70" stroke-width="1.05" fill="none"/>
<rect x="1247.5" y="770.6" width="4.6" height="4.6" fill="#9a1b70"/>
<path d="M1275.6 777.4V782.6M1273.6 777.4h4M1273.6 782.6h4" stroke="#9a1b70" stroke-width="1.05" fill="none"/>
<rect x="1273.3" y="777.7" width="4.6" height="4.6" fill="#9a1b70"/>
<path d="M1301.8 783.6V786.4M1299.8 783.6h4M1299.8 786.4h4" stroke="#9a1b70" stroke-width="1.05" fill="none"/>
<rect x="1299.5" y="782.7" width="4.6" height="4.6" fill="#9a1b70"/>
<path d="M1327.3 787.1V790.7M1325.3 787.1h4M1325.3 790.7h4" stroke="#9a1b70" stroke-width="1.05" fill="none"/>
<rect x="1325.0" y="786.6" width="4.6" height="4.6" fill="#9a1b70"/>
<path d="M1353.2 791.0V794.2M1351.2 791.0h4M1351.2 794.2h4" stroke="#9a1b70" stroke-width="1.05" fill="none"/>
<rect x="1350.9" y="790.3" width="4.6" height="4.6" fill="#9a1b70"/>
<path d="M1379.0 794.4V797.6M1377.0 794.4h4M1377.0 797.6h4" stroke="#9a1b70" stroke-width="1.05" fill="none"/>
<rect x="1376.7" y="793.7" width="4.6" height="4.6" fill="#9a1b70"/>
<path d="M1280.1 718.8h12.5" stroke="#9a1b70" stroke-width="1.2"/>
<rect x="1284.7" y="717.1" width="3.4" height="3.4" fill="#9a1b70"/>
<text x="1296.7" y="721.4" class="lg">Semaglutide 7.2 mg</text>
<path d="M1280.1 729.0h12.5" stroke="#0b1b5e" stroke-width="1.2"/>
<rect x="1284.7" y="727.3" width="3.4" height="3.4" fill="#0b1b5e"/>
<text x="1296.7" y="731.6" class="lg">Semaglutide 2.4 mg</text>
<path d="M1280.1 739.1h12.5" stroke="#3b97de" stroke-width="1.2"/>
<path d="M1285.1 739.1l1.3 -1.4l1.3 1.4l-1.3 1.4Z" fill="#3b97de"/>
<text x="1296.7" y="741.7" class="lg">Semaglutide &lt;2.4 mg</text>
<path d="M1673.00 62.00h12.49v1.78h-12.49zM1687.27 62.00h8.92v1.78h-8.92zM1697.97 62.00h3.57v1.78h-3.57zM1706.89 62.00h1.78v1.78h-1.78zM1710.46 62.00h1.78v1.78h-1.78zM1714.03 62.00h7.14v1.78h-7.14zM1722.95 62.00h1.78v1.78h-1.78zM1726.51 62.00h12.49v1.78h-12.49zM1673.00 63.78h1.78v1.78h-1.78zM1683.70 63.78h1.78v1.78h-1.78zM1694.41 63.78h1.78v1.78h-1.78zM1697.97 63.78h3.57v1.78h-3.57zM1703.32 63.78h5.35v1.78h-5.35zM1715.81 63.78h1.78v1.78h-1.78zM1722.95 63.78h1.78v1.78h-1.78zM1726.51 63.78h1.78v1.78h-1.78zM1737.22 63.78h1.78v1.78h-1.78zM1673.00 65.57h1.78v1.78h-1.78zM1676.57 65.57h5.35v1.78h-5.35zM1683.70 65.57h1.78v1.78h-1.78zM1687.27 65.57h1.78v1.78h-1.78zM1690.84 65.57h5.35v1.78h-5.35zM1697.97 65.57h3.57v1.78h-3.57zM1708.68 65.57h5.35v1.78h-5.35zM1717.59 65.57h7.14v1.78h-7.14zM1726.51 65.57h1.78v1.78h-1.78zM1730.08 65.57h5.35v1.78h-5.35zM1737.22 65.57h1.78v1.78h-1.78zM1673.00 67.35h1.78v1.78h-1.78zM1676.57 67.35h5.35v1.78h-5.35zM1683.70 67.35h1.78v1.78h-1.78zM1689.05 67.35h5.35v1.78h-5.35zM1696.19 67.35h19.62v1.78h-19.62zM1719.38 67.35h5.35v1.78h-5.35zM1726.51 67.35h1.78v1.78h-1.78zM1730.08 67.35h5.35v1.78h-5.35zM1737.22 67.35h1.78v1.78h-1.78zM1673.00 69.14h1.78v1.78h-1.78zM1676.57 69.14h5.35v1.78h-5.35zM1683.70 69.14h1.78v1.78h-1.78zM1689.05 69.14h1.78v1.78h-1.78zM1697.97 69.14h5.35v1.78h-5.35zM1708.68 69.14h3.57v1.78h-3.57zM1722.95 69.14h1.78v1.78h-1.78zM1726.51 69.14h1.78v1.78h-1.78zM1730.08 69.14h5.35v1.78h-5.35zM1737.22 69.14h1.78v1.78h-1.78zM1673.00 70.92h1.78v1.78h-1.78zM1683.70 70.92h1.78v1.78h-1.78zM1687.27 70.92h1.78v1.78h-1.78zM1694.41 70.92h1.78v1.78h-1.78zM1699.76 70.92h1.78v1.78h-1.78zM1708.68 70.92h3.57v1.78h-3.57zM1714.03 70.92h1.78v1.78h-1.78zM1719.38 70.92h3.57v1.78h-3.57zM1726.51 70.92h1.78v1.78h-1.78zM1737.22 70.92h1.78v1.78h-1.78zM1673.00 72.70h12.49v1.78h-12.49zM1690.84 72.70h1.78v1.78h-1.78zM1696.19 72.70h7.14v1.78h-7.14zM1705.11 72.70h5.35v1.78h-5.35zM1712.24 72.70h3.57v1.78h-3.57zM1719.38 72.70h1.78v1.78h-1.78zM1722.95 72.70h1.78v1.78h-1.78zM1726.51 72.70h12.49v1.78h-12.49zM1689.05 74.49h3.57v1.78h-3.57zM1694.41 74.49h1.78v1.78h-1.78zM1701.54 74.49h1.78v1.78h-1.78zM1705.11 74.49h3.57v1.78h-3.57zM1710.46 74.49h1.78v1.78h-1.78zM1714.03 74.49h1.78v1.78h-1.78zM1722.95 74.49h1.78v1.78h-1.78zM1673.00 76.27h1.78v1.78h-1.78zM1680.14 76.27h1.78v1.78h-1.78zM1685.49 76.27h1.78v1.78h-1.78zM1690.84 76.27h1.78v1.78h-1.78zM1694.41 76.27h3.57v1.78h-3.57zM1701.54 76.27h10.70v1.78h-10.70zM1714.03 76.27h1.78v1.78h-1.78zM1717.59 76.27h5.35v1.78h-5.35zM1724.73 76.27h3.57v1.78h-3.57zM1733.65 76.27h5.35v1.78h-5.35zM1674.78 78.05h5.35v1.78h-5.35zM1683.70 78.05h3.57v1.78h-3.57zM1692.62 78.05h3.57v1.78h-3.57zM1697.97 78.05h3.57v1.78h-3.57zM1706.89 78.05h1.78v1.78h-1.78zM1710.46 78.05h1.78v1.78h-1.78zM1714.03 78.05h3.57v1.78h-3.57zM1721.16 78.05h3.57v1.78h-3.57zM1726.51 78.05h12.49v1.78h-12.49zM1674.78 79.84h12.49v1.78h-12.49zM1690.84 79.84h3.57v1.78h-3.57zM1696.19 79.84h1.78v1.78h-1.78zM1699.76 79.84h3.57v1.78h-3.57zM1705.11 79.84h3.57v1.78h-3.57zM1712.24 79.84h1.78v1.78h-1.78zM1719.38 79.84h8.92v1.78h-8.92zM1730.08 79.84h5.35v1.78h-5.35zM1674.78 81.62h12.49v1.78h-12.49zM1692.62 81.62h1.78v1.78h-1.78zM1696.19 81.62h28.54v1.78h-28.54zM1735.43 81.62h3.57v1.78h-3.57zM1674.78 83.41h1.78v1.78h-1.78zM1680.14 83.41h1.78v1.78h-1.78zM1690.84 83.41h1.78v1.78h-1.78zM1694.41 83.41h1.78v1.78h-1.78zM1708.68 83.41h8.92v1.78h-8.92zM1726.51 83.41h3.57v1.78h-3.57zM1733.65 83.41h1.78v1.78h-1.78zM1673.00 85.19h1.78v1.78h-1.78zM1676.57 85.19h5.35v1.78h-5.35zM1683.70 85.19h1.78v1.78h-1.78zM1689.05 85.19h5.35v1.78h-5.35zM1701.54 85.19h5.35v1.78h-5.35zM1708.68 85.19h1.78v1.78h-1.78zM1712.24 85.19h5.35v1.78h-5.35zM1722.95 85.19h8.92v1.78h-8.92zM1733.65 85.19h1.78v1.78h-1.78zM1673.00 86.97h3.57v1.78h-3.57zM1680.14 86.97h5.35v1.78h-5.35zM1687.27 86.97h1.78v1.78h-1.78zM1690.84 86.97h1.78v1.78h-1.78zM1696.19 86.97h1.78v1.78h-1.78zM1699.76 86.97h1.78v1.78h-1.78zM1705.11 86.97h1.78v1.78h-1.78zM1708.68 86.97h16.05v1.78h-16.05zM1726.51 86.97h1.78v1.78h-1.78zM1731.86 86.97h1.78v1.78h-1.78zM1673.00 88.76h5.35v1.78h-5.35zM1681.92 88.76h8.92v1.78h-8.92zM1692.62 88.76h1.78v1.78h-1.78zM1696.19 88.76h8.92v1.78h-8.92zM1719.38 88.76h1.78v1.78h-1.78zM1722.95 88.76h1.78v1.78h-1.78zM1728.30 88.76h3.57v1.78h-3.57zM1733.65 88.76h5.35v1.78h-5.35zM1673.00 90.54h1.78v1.78h-1.78zM1678.35 90.54h1.78v1.78h-1.78zM1681.92 90.54h1.78v1.78h-1.78zM1685.49 90.54h7.14v1.78h-7.14zM1694.41 90.54h3.57v1.78h-3.57zM1701.54 90.54h14.27v1.78h-14.27zM1721.16 90.54h3.57v1.78h-3.57zM1726.51 90.54h7.14v1.78h-7.14zM1735.43 90.54h3.57v1.78h-3.57zM1676.57 92.32h8.92v1.78h-8.92zM1690.84 92.32h3.57v1.78h-3.57zM1697.97 92.32h1.78v1.78h-1.78zM1701.54 92.32h3.57v1.78h-3.57zM1712.24 92.32h5.35v1.78h-5.35zM1728.30 92.32h1.78v1.78h-1.78zM1731.86 92.32h1.78v1.78h-1.78zM1735.43 92.32h1.78v1.78h-1.78zM1674.78 94.11h5.35v1.78h-5.35zM1683.70 94.11h3.57v1.78h-3.57zM1690.84 94.11h3.57v1.78h-3.57zM1696.19 94.11h5.35v1.78h-5.35zM1706.89 94.11h5.35v1.78h-5.35zM1715.81 94.11h5.35v1.78h-5.35zM1722.95 94.11h3.57v1.78h-3.57zM1730.08 94.11h7.14v1.78h-7.14zM1673.00 95.89h1.78v1.78h-1.78zM1678.35 95.89h3.57v1.78h-3.57zM1683.70 95.89h1.78v1.78h-1.78zM1687.27 95.89h3.57v1.78h-3.57zM1692.62 95.89h1.78v1.78h-1.78zM1696.19 95.89h7.14v1.78h-7.14zM1706.89 95.89h5.35v1.78h-5.35zM1714.03 95.89h7.14v1.78h-7.14zM1730.08 95.89h3.57v1.78h-3.57zM1737.22 95.89h1.78v1.78h-1.78zM1674.78 97.68h12.49v1.78h-12.49zM1689.05 97.68h1.78v1.78h-1.78zM1692.62 97.68h3.57v1.78h-3.57zM1699.76 97.68h7.14v1.78h-7.14zM1708.68 97.68h3.57v1.78h-3.57zM1714.03 97.68h3.57v1.78h-3.57zM1721.16 97.68h5.35v1.78h-5.35zM1728.30 97.68h1.78v1.78h-1.78zM1733.65 97.68h3.57v1.78h-3.57zM1674.78 99.46h1.78v1.78h-1.78zM1678.35 99.46h5.35v1.78h-5.35zM1690.84 99.46h5.35v1.78h-5.35zM1699.76 99.46h7.14v1.78h-7.14zM1708.68 99.46h1.78v1.78h-1.78zM1719.38 99.46h5.35v1.78h-5.35zM1726.51 99.46h3.57v1.78h-3.57zM1731.86 99.46h5.35v1.78h-5.35zM1673.00 101.24h1.78v1.78h-1.78zM1680.14 101.24h7.14v1.78h-7.14zM1689.05 101.24h5.35v1.78h-5.35zM1703.32 101.24h1.78v1.78h-1.78zM1706.89 101.24h1.78v1.78h-1.78zM1710.46 101.24h1.78v1.78h-1.78zM1714.03 101.24h7.14v1.78h-7.14zM1724.73 101.24h3.57v1.78h-3.57zM1730.08 101.24h3.57v1.78h-3.57zM1673.00 103.03h3.57v1.78h-3.57zM1681.92 103.03h7.14v1.78h-7.14zM1694.41 103.03h1.78v1.78h-1.78zM1697.97 103.03h3.57v1.78h-3.57zM1705.11 103.03h1.78v1.78h-1.78zM1710.46 103.03h8.92v1.78h-8.92zM1722.95 103.03h5.35v1.78h-5.35zM1730.08 103.03h5.35v1.78h-5.35zM1673.00 104.81h5.35v1.78h-5.35zM1681.92 104.81h3.57v1.78h-3.57zM1687.27 104.81h5.35v1.78h-5.35zM1694.41 104.81h1.78v1.78h-1.78zM1697.97 104.81h3.57v1.78h-3.57zM1705.11 104.81h3.57v1.78h-3.57zM1710.46 104.81h3.57v1.78h-3.57zM1715.81 104.81h1.78v1.78h-1.78zM1719.38 104.81h1.78v1.78h-1.78zM1722.95 104.81h5.35v1.78h-5.35zM1733.65 104.81h1.78v1.78h-1.78zM1737.22 104.81h1.78v1.78h-1.78zM1673.00 106.59h5.35v1.78h-5.35zM1681.92 106.59h3.57v1.78h-3.57zM1689.05 106.59h3.57v1.78h-3.57zM1696.19 106.59h3.57v1.78h-3.57zM1701.54 106.59h1.78v1.78h-1.78zM1708.68 106.59h1.78v1.78h-1.78zM1712.24 106.59h3.57v1.78h-3.57zM1719.38 106.59h12.49v1.78h-12.49zM1735.43 106.59h1.78v1.78h-1.78zM1674.78 108.38h1.78v1.78h-1.78zM1678.35 108.38h1.78v1.78h-1.78zM1685.49 108.38h3.57v1.78h-3.57zM1690.84 108.38h1.78v1.78h-1.78zM1694.41 108.38h5.35v1.78h-5.35zM1701.54 108.38h3.57v1.78h-3.57zM1708.68 108.38h17.84v1.78h-17.84zM1728.30 108.38h1.78v1.78h-1.78zM1733.65 108.38h5.35v1.78h-5.35zM1673.00 110.16h1.78v1.78h-1.78zM1676.57 110.16h1.78v1.78h-1.78zM1685.49 110.16h1.78v1.78h-1.78zM1689.05 110.16h1.78v1.78h-1.78zM1694.41 110.16h1.78v1.78h-1.78zM1699.76 110.16h3.57v1.78h-3.57zM1705.11 110.16h1.78v1.78h-1.78zM1708.68 110.16h1.78v1.78h-1.78zM1712.24 110.16h3.57v1.78h-3.57zM1717.59 110.16h12.49v1.78h-12.49zM1735.43 110.16h1.78v1.78h-1.78zM1673.00 111.95h1.78v1.78h-1.78zM1678.35 111.95h1.78v1.78h-1.78zM1687.27 111.95h1.78v1.78h-1.78zM1692.62 111.95h1.78v1.78h-1.78zM1696.19 111.95h1.78v1.78h-1.78zM1701.54 111.95h1.78v1.78h-1.78zM1705.11 111.95h3.57v1.78h-3.57zM1710.46 111.95h1.78v1.78h-1.78zM1714.03 111.95h1.78v1.78h-1.78zM1722.95 111.95h7.14v1.78h-7.14zM1731.86 111.95h3.57v1.78h-3.57zM1737.22 111.95h1.78v1.78h-1.78zM1690.84 113.73h1.78v1.78h-1.78zM1694.41 113.73h3.57v1.78h-3.57zM1699.76 113.73h5.35v1.78h-5.35zM1710.46 113.73h5.35v1.78h-5.35zM1719.38 113.73h1.78v1.78h-1.78zM1722.95 113.73h1.78v1.78h-1.78zM1728.30 113.73h1.78v1.78h-1.78zM1731.86 113.73h1.78v1.78h-1.78zM1735.43 113.73h3.57v1.78h-3.57zM1673.00 115.51h12.49v1.78h-12.49zM1687.27 115.51h1.78v1.78h-1.78zM1692.62 115.51h7.14v1.78h-7.14zM1705.11 115.51h1.78v1.78h-1.78zM1710.46 115.51h1.78v1.78h-1.78zM1714.03 115.51h10.70v1.78h-10.70zM1731.86 115.51h1.78v1.78h-1.78zM1735.43 115.51h1.78v1.78h-1.78zM1673.00 117.30h1.78v1.78h-1.78zM1683.70 117.30h1.78v1.78h-1.78zM1687.27 117.30h1.78v1.78h-1.78zM1694.41 117.30h1.78v1.78h-1.78zM1697.97 117.30h3.57v1.78h-3.57zM1710.46 117.30h1.78v1.78h-1.78zM1717.59 117.30h1.78v1.78h-1.78zM1722.95 117.30h3.57v1.78h-3.57zM1728.30 117.30h1.78v1.78h-1.78zM1731.86 117.30h5.35v1.78h-5.35zM1673.00 119.08h1.78v1.78h-1.78zM1676.57 119.08h5.35v1.78h-5.35zM1683.70 119.08h1.78v1.78h-1.78zM1687.27 119.08h1.78v1.78h-1.78zM1690.84 119.08h1.78v1.78h-1.78zM1697.97 119.08h1.78v1.78h-1.78zM1705.11 119.08h7.14v1.78h-7.14zM1721.16 119.08h5.35v1.78h-5.35zM1728.30 119.08h10.70v1.78h-10.70zM1673.00 120.86h1.78v1.78h-1.78zM1676.57 120.86h5.35v1.78h-5.35zM1683.70 120.86h1.78v1.78h-1.78zM1687.27 120.86h3.57v1.78h-3.57zM1692.62 120.86h1.78v1.78h-1.78zM1697.97 120.86h1.78v1.78h-1.78zM1701.54 120.86h1.78v1.78h-1.78zM1705.11 120.86h5.35v1.78h-5.35zM1714.03 120.86h5.35v1.78h-5.35zM1721.16 120.86h5.35v1.78h-5.35zM1728.30 120.86h1.78v1.78h-1.78zM1731.86 120.86h3.57v1.78h-3.57zM1737.22 120.86h1.78v1.78h-1.78zM1673.00 122.65h1.78v1.78h-1.78zM1676.57 122.65h5.35v1.78h-5.35zM1683.70 122.65h1.78v1.78h-1.78zM1687.27 122.65h3.57v1.78h-3.57zM1692.62 122.65h1.78v1.78h-1.78zM1696.19 122.65h5.35v1.78h-5.35zM1703.32 122.65h3.57v1.78h-3.57zM1708.68 122.65h3.57v1.78h-3.57zM1719.38 122.65h5.35v1.78h-5.35zM1730.08 122.65h3.57v1.78h-3.57zM1737.22 122.65h1.78v1.78h-1.78zM1673.00 124.43h1.78v1.78h-1.78zM1683.70 124.43h1.78v1.78h-1.78zM1687.27 124.43h5.35v1.78h-5.35zM1694.41 124.43h5.35v1.78h-5.35zM1703.32 124.43h1.78v1.78h-1.78zM1706.89 124.43h3.57v1.78h-3.57zM1715.81 124.43h3.57v1.78h-3.57zM1721.16 124.43h8.92v1.78h-8.92zM1733.65 124.43h1.78v1.78h-1.78zM1737.22 124.43h1.78v1.78h-1.78zM1673.00 126.22h12.49v1.78h-12.49zM1687.27 126.22h3.57v1.78h-3.57zM1703.32 126.22h3.57v1.78h-3.57zM1708.68 126.22h3.57v1.78h-3.57zM1717.59 126.22h5.35v1.78h-5.35zM1724.73 126.22h1.78v1.78h-1.78zM1730.08 126.22h1.78v1.78h-1.78zM1735.43 126.22h3.57v1.78h-3.57z" fill="#15130f" shape-rendering="crispEdges"/>
</svg>
<div class="t title" style="top:40px;left:29.6px;"><span class="k53">STEP </span><span class="k161">UP: </span><span class="k258">Final </span><span class="k224">dose </span><span class="k286">responder </span><span class="k249">analysis </span><span class="k287">in </span><span class="k318">participants </span><span class="k306">randomized </span><span class="k410">to</span></div>
<div class="t title" style="top:80px;left:29.6px;"><span class="k319">semaglutide </span><span class="k251">7.2 </span><span class="k356">mg</span></div>
<div class="t auth" style="top:137px;left:29.6px;"><b><span class="k282">W. </span><span class="k323">Timothy </span><span class="k297">Garvey</span><sup><span class="k298">1</span></sup></b><span class="k263">, </span><span class="k241">Jøran </span><span class="k323">Hjelmesæth</span><sup><span class="k298">2</span></sup><span class="k263">, </span><span class="k340">Kristoffer </span><span class="k244">Jensen </span><span class="k297">Kolnes</span><sup><span class="k298">3</span></sup><span class="k263">, </span><span class="k292">Shilpa </span><span class="k378">M</span><sup><span class="k298">4</span></sup><span class="k263">, </span><span class="k304">Niklas </span><span class="k302">Kahr </span><span class="k283">Rasmussen</span><sup><span class="k298">3</span></sup><span class="k263">, Julio </span><span class="k293">Rosenstock</span><sup><span class="k298">5</span></sup><span class="k263">, </span><span class="k341">Ildiko </span><span class="k309">Lingvay</span><sup><span class="k298">6</span></sup></div>
<div class="t qr1" style="top:82px;left:962.5px;width:700px;text-align:right;"><span class="k279">Scan </span><span class="k274">QR </span><span class="k293">code </span><span class="k304">or </span><span class="k306">visit</span></div>
<div class="t qr1" style="top:90px;left:962.5px;width:700px;text-align:right;"><span class="k314">the </span><span class="k305">web </span><span class="k301">site below </span>for:</div>
<div class="t qr2" style="top:100px;left:962.5px;width:700px;text-align:right;"><span class="k315">ScienceHub </span><span class="k326">poster </span><span class="k333">portal</span></div>
<div class="t qr3" style="top:137px;left:1568.2px;"><span class="k283">https:</span>//<span class="k279">sciencehub.novonordisk.com/ow2025/garvey.html</span></div>
<div class="t h1" style="top:184px;left:29.6px;"><span class="k314">Introduction </span><span class="k286">and </span><span class="k285">aims</span></div>
<div class="t bul" style="top:214px;left:30.1px;"><span class="k328">•</span></div>
<div class="t body" style="top:213px;left:41.5px;">Semaglutide <span class="k330">treatment </span><span class="k299">led </span><span class="k323">to </span><span class="k310">substantial </span><span class="k322">weight </span><span class="k283">loss</span></div>
<div class="t body" style="top:229px;left:41.5px;"><span class="k310">in </span><span class="k308">adults </span><span class="k330">with </span><span class="k316">overweight </span><span class="k320">or </span><span class="k310">obesity.</span><sup><span class="k289">1</span></sup></div>
<div class="t bul" style="top:254px;left:30.1px;"><span class="k328">•</span></div>
<div class="t body" style="top:253px;left:41.5px;"><span class="k199">STEP </span><span class="k239">UP </span><span class="k257">(NCT05646706) </span><span class="k274">was </span><span class="k263">a </span><span class="k285">phase </span><span class="k295">3b,</span></div>
<div class="t body" style="top:269px;left:41.5px;"><span class="k311">randomized </span><span class="k314">double-blind, </span><span class="k309">placebo-controlled,</span></div>
<div class="t body" style="top:285px;left:41.5px;"><span class="k310">parallel-group, </span><span class="k329">multinational </span><span class="k318">controlled </span><span class="k325">trial </span><span class="k310">in </span><span class="k317">adults</span></div>
<div class="t body" style="top:302px;left:41.5px;"><span class="k294">aged </span><span class="k271">≥18 </span><span class="k284">years.</span><sup><span class="k289">2</span></sup><span class="k257"> </span><span class="k303">Participants </span><span class="k297">were </span><span class="k311">randomized </span><span class="k356">to</span></div>
<div class="t body" style="top:318px;left:41.5px;"><span class="k291">once-weekly </span><span class="k302">subcutaneous </span><span class="k312">semaglutide </span><span class="k272">7.2 </span><span class="k326">mg,</span></div>
<div class="t body" style="top:334px;left:41.5px;"><span class="k272">2.4 </span><span class="k309">mg, </span><span class="k320">or </span><span class="k295">placebo </span><span class="k255">as </span><span class="k288">an </span><span class="k312">adjunct </span><span class="k323">to </span><span class="k311">lifestyle</span></div>
<div class="t body" style="top:351px;left:41.5px;"><span class="k326">intervention </span><span class="k254">(–500 </span><span class="k281">kcal </span><span class="k312">per </span><span class="k285">day </span><span class="k301">and </span><span class="k276">150 </span><span class="k325">min </span><span class="k329">per</span></div>
<div class="t body" style="top:367px;left:41.5px;"><span class="k288">week </span><span class="k316">of </span><span class="k291">physical </span>activity).</div>
<div class="t dash" style="top:389px;left:42.0px;"><span class="k239">–</span></div>
<div class="t body" style="top:388px;left:53.5px;"><span class="k291">Of </span><span class="k314">the </span><span class="k315">participants </span><span class="k311">randomized </span><span class="k323">to </span><span class="k272">7.2 </span><span class="k326">mg,</span></div>
<div class="t body" style="top:405px;left:53.5px;"><span class="k293">some </span><span class="k313">completed </span><span class="k314">the </span><span class="k330">treatment </span><span class="k307">on </span><span class="k278">doses </span><span class="k267">&lt;7.2 </span><span class="k326">mg,</span></div>
<div class="t body" style="top:421px;left:53.5px;"><span class="k320">potentially </span><span class="k302">due </span><span class="k323">to </span><span class="k287">adverse </span><span class="k288">events </span><span class="k216">(AEs) </span><span class="k351">or</span></div>
<div class="t body" style="top:437px;left:53.5px;"><span class="k317">sufficient </span><span class="k293">efficacy </span><span class="k304">at </span><span class="k311">lower </span><span class="k280">doses.</span></div>
<div class="t bul" style="top:462px;left:30.1px;"><span class="k328">•</span></div>
<div class="t body" style="top:461px;left:41.5px;"><span class="k271">This </span><i><span class="k269">post </span><span class="k255">hoc</span></i><span class="k257"> </span><span class="k315">exploratory </span><span class="k283">analysis </span><span class="k309">included </span><b><span class="k292">only</span></b></div>
<div class="t body" style="top:477px;left:41.5px;"><b><span class="k303">participants </span><span class="k298">randomized </span><span class="k313">to </span><span class="k321">the </span><span class="k307">semaglutide</span></b></div>
<div class="t body" style="top:494px;left:41.5px;"><b><span class="k276">7.2 </span><span class="k297">mg </span><span class="k295">group</span></b><span class="k257"> </span><span class="k301">and </span><span class="k310">investigated </span><span class="k327">participant</span></div>
<div class="t body" style="top:510px;left:41.5px;"><span class="k298">characteristics </span><span class="k301">and </span><span class="k286">dose </span><span class="k319">journey.</span></div>
<div class="t h1" style="top:543px;left:29.6px;"><span class="k310">Methods</span></div>
<div class="t bul" style="top:574px;left:30.1px;"><span class="k328">•</span></div>
<div class="t body" style="top:572px;left:41.5px;"><span class="k303">Participants </span><span class="k311">randomized </span><span class="k323">to </span><span class="k312">semaglutide </span><span class="k272">7.2 </span><span class="k355">mg</span></div>
<div class="t body" style="top:588px;left:41.5px;"><span class="k297">were </span><span class="k320">stratified </span><span class="k303">according </span><span class="k323">to </span><span class="k314">the </span><span class="k315">final </span><span class="k286">dose </span><span class="k294">received</span></div>
<div class="t body" style="top:605px;left:41.5px;"><span class="k304">at </span><span class="k314">the </span><span class="k302">end </span><span class="k316">of </span><span class="k314">the </span><span class="k325">trial </span><span class="k304">at </span><span class="k288">week </span><span class="k274">72 </span><span class="k265">(7.2 </span><span class="k309">mg, </span><span class="k272">2.4 </span><span class="k326">mg,</span></div>
<div class="t body" style="top:621px;left:41.5px;"><span class="k320">or </span><span class="k267">&lt;2.4 </span><span class="k303">mg).</span></div>
<div class="t bul" style="top:646px;left:30.1px;"><span class="k328">•</span></div>
<div class="t body" style="top:645px;left:41.5px;"><span class="k301">Participants’ </span><span class="k294">baseline </span><span class="k296">characteristics, </span><span class="k286">dose </span><span class="k320">journey</span></div>
<div class="t body" style="top:661px;left:41.5px;"><span class="k311">(including </span><span class="k313">highest </span><span class="k286">dose </span><span class="k290">received </span><span class="k332">during </span><span class="k314">the </span><span class="k327">trial,</span></div>
<div class="t body" style="top:677px;left:41.5px;"><span class="k286">dose </span><span class="k307">reductions, </span><span class="k301">and </span><span class="k286">reasons </span><span class="k332">for </span><span class="k286">dose </span><span class="k305">reductions),</span></div>
<div class="t body" style="top:694px;left:41.5px;"><span class="k301">and </span><span class="k287">changes </span><span class="k310">in </span><span class="k307">body </span><span class="k322">weight </span><span class="k301">and </span><span class="k307">body </span><span class="k275">mass </span><span class="k311">index</span></div>
<div class="t body" style="top:710px;left:41.5px;"><span class="k276">(BMI) </span><span class="k297">were </span><span class="k263">assessed.</span></div>
<div class="t bul" style="top:735px;left:30.1px;"><span class="k328">•</span></div>
<div class="t body" style="top:733px;left:41.5px;"><span class="k264">The </span><span class="k295">safety </span><span class="k321">profile </span><span class="k316">of </span><span class="k275">each </span><span class="k325">group </span><span class="k274">was </span><span class="k290">also</span></div>
<div class="t body" style="top:750px;left:41.5px;"><span class="k304">examined.</span></div>
<div class="t bul" style="top:774px;left:30.1px;"><span class="k328">•</span></div>
<div class="t body" style="top:773px;left:41.5px;"><span class="k288">Data are </span><span class="k332">for </span><span class="k314">the </span><span class="k321">in-trial </span><span class="k319">period </span><span class="k301">and </span><span class="k330">treatment </span><span class="k307">policy</span></div>
<div class="t body" style="top:789px;left:41.5px;"><span class="k313">estimand.</span></div>
<div class="t dash" style="top:812px;left:42.0px;"><span class="k239">–</span></div>
<div class="t body" style="top:811px;left:53.5px;"><span class="k265">Week </span><span class="k274">72 </span><span class="k287">responses </span><span class="k297">were </span><span class="k286">analyzed </span><span class="k307">using </span><span class="k304">an</span></div>
<div class="t body" style="top:827px;left:53.5px;"><span class="k283">analysis </span><span class="k316">of </span><span class="k288">covariance </span><span class="k315">model </span><span class="k330">with </span><span class="k296">last </span><span class="k292">dose</span></div>
<div class="t body" style="top:844px;left:53.5px;"><span class="k325">group </span><span class="k255">as </span><span class="k317">factor </span><span class="k301">and </span><span class="k294">baseline </span><span class="k307">body </span><span class="k322">weight </span><span class="k253">as</span></div>
<div class="t body" style="top:860px;left:53.5px;"><span class="k298">covariate.</span></div>
<div class="t dash" style="top:882px;left:42.0px;"><span class="k239">–</span></div>
<div class="t body" style="top:881px;left:53.5px;"><span class="k301">Missing </span><span class="k305">observations </span><span class="k297">were </span><span class="k328">multiple </span><span class="k263">(×1000)</span></div>
<div class="t body" style="top:897px;left:53.5px;"><span class="k329">imputed </span><span class="k334">from </span><span class="k311">retrieved </span><span class="k315">participants </span>regardless</div>
<div class="t body" style="top:914px;left:53.5px;"><span class="k316">of </span><span class="k314">the </span><span class="k296">last </span><span class="k286">dose </span><span class="k327">group.</span></div>
<div class="t h1" style="top:184px;left:380.0px;"><span class="k264">Results</span></div>
<div class="t bul" style="top:214px;left:380.3px;"><span class="k329">•</span></div>
<div class="t body" style="top:213px;left:391.4px;"><span class="k284">Baseline </span><span class="k310">demographics </span><span class="k303">and </span>characteristics are</div>
<div class="t body" style="top:229px;left:391.4px;"><span class="k308">presented </span><span class="k311">in </span><b><span class="k284">Table 1</span></b><span class="k268">.</span></div>
<div class="t bul" style="top:254px;left:380.3px;"><span class="k329">•</span></div>
<div class="t body" style="top:253px;left:391.4px;"><span class="k291">Overall, </span><span class="k279">1005 </span><span class="k317">participants </span><span class="k299">were </span><span class="k313">randomized </span><span class="k358">to</span></div>
<div class="t body" style="top:269px;left:391.4px;"><span class="k314">semaglutide </span><span class="k274">7.2 </span><span class="k324">mg </span><span class="k311">in </span><span class="k316">the </span><span class="k199">STEP </span><span class="k241">UP </span><span class="k318">trial, </span><span class="k317">of </span><span class="k345">whom</span></div>
<div class="t body" style="top:285px;left:391.4px;"><span class="k278">879 </span><span class="k315">completed </span><span class="k333">treatment.</span><sup><span class="k290">2</span></sup></div>
<div class="t bul" style="top:310px;left:380.3px;"><span class="k329">•</span></div>
<div class="t body" style="top:309px;left:391.4px;"><span class="k293">Of </span><span class="k296">these </span><span class="k332">treatment </span><span class="k308">completers, </span><span class="k276">669, </span><span class="k274">66, </span><span class="k303">and </span><span class="k284">144</span></div>
<div class="t body" style="top:325px;left:391.4px;"><span class="k299">were </span><span class="k309">on </span><span class="k317">final </span><span class="k280">doses </span><span class="k317">of </span><span class="k274">7.2 </span><span class="k311">mg, </span><span class="k274">2.4 </span><span class="k311">mg, </span><span class="k303">and </span><span class="k268">&lt;2.4 </span><span class="k328">mg,</span></div>
<div class="t body" style="top:341px;left:391.4px;"><span class="k299">respectively, </span><span class="k306">at </span><span class="k316">the </span><span class="k304">end </span><span class="k317">of </span><span class="k316">the </span><span class="k328">trial.</span></div>
<div class="t bul" style="top:367px;left:380.3px;"><span class="k329">•</span></div>
<div class="t body" style="top:365px;left:391.4px;"><span class="k305">Participants </span><span class="k311">in </span><span class="k316">the </span><span class="k314">semaglutide </span><span class="k274">7.2 </span><span class="k324">mg </span><span class="k317">final </span><span class="k295">dose</span></div>
<div class="t body" style="top:381px;left:391.4px;"><span class="k327">group </span><span class="k303">had </span><span class="k317">greater </span><span class="k296">baseline </span><span class="k309">body </span><span class="k317">weight, </span><span class="k292">BMI, </span><span class="k317">and</span></div>
<div class="t body" style="top:398px;left:391.4px;"><span class="k304">waist </span><span class="k305">circumference </span><span class="k309">compared </span><span class="k331">with </span><span class="k316">the </span><span class="k274">2.4 </span><span class="k324">mg </span><span class="k317">and</span></div>
<div class="t body" style="top:414px;left:391.4px;"><span class="k268">&lt;2.4 </span><span class="k324">mg </span><span class="k317">final </span><span class="k288">dose </span><span class="k316">groups.</span></div>
<div class="t h2" style="top:453px;left:380.3px;"><span class="k268">Dose </span><span class="k314">summary</span></div>
<div class="t bul" style="top:475px;left:380.3px;"><span class="k329">•</span></div>
<div class="t body" style="top:474px;left:391.4px;"><span class="k321">In </span><span class="k316">the </span><span class="k274">2.4 </span><span class="k324">mg </span><span class="k303">and </span><span class="k268">&lt;2.4 </span><span class="k324">mg </span><span class="k317">final </span><span class="k288">dose </span><span class="k309">groups, </span><span class="k257">66.7%</span></div>
<div class="t body" style="top:490px;left:391.4px;"><span class="k303">and </span><span class="k259">50.0%, </span><span class="k299">respectively, </span><span class="k287">achieved </span><span class="k264">a </span><span class="k288">dose </span><span class="k317">of </span><span class="k274">7.2 </span><span class="k358">mg</span></div>
<div class="t body" style="top:506px;left:391.4px;"><span class="k306">at </span><span class="k294">least </span><span class="k289">once </span><span class="k334">during </span><span class="k316">the </span><span class="k327">trial </span><span class="k237">(</span><b><span class="k284">Table 2</span></b><span class="k253">).</span></div>
<div class="t tt" style="top:542px;left:379.5px;"><b><span class="k282">Table </span><span class="k283">1.</span></b><span class="k256"> </span><span class="k282">Baseline </span><span class="k308">demographics </span>and characteristics</div>
<div class="t thc" style="top:565px;left:506.1px;width:200px;text-align:center;"><span class="k284">Final </span><span class="k272">dose </span><span class="k292">received </span><span class="k351">at</span></div>
<div class="t thc" style="top:577px;left:506.1px;width:200px;text-align:center;"><span class="k315">the </span><span class="k290">end </span><span class="k292">of </span><span class="k315">the </span><span class="k328">trial</span></div>
<div class="t th" style="top:600px;left:437.5px;width:200px;text-align:center;"><span class="k281">Semaglutide</span></div>
<div class="t th" style="top:613px;left:437.5px;width:200px;text-align:center;"><span class="k267">7.2 </span><span class="k286">mg</span></div>
<div class="t th" style="top:627px;left:437.5px;width:200px;text-align:center;"><span class="k267">(n=669)</span></div>
<div class="t th" style="top:600px;left:506.0px;width:200px;text-align:center;"><span class="k281">Semaglutide</span></div>
<div class="t th" style="top:613px;left:506.0px;width:200px;text-align:center;"><span class="k267">2.4 </span><span class="k286">mg</span></div>
<div class="t th" style="top:627px;left:506.0px;width:200px;text-align:center;"><span class="k267">(n=66)</span></div>
<div class="t th" style="top:600px;left:574.6px;width:200px;text-align:center;"><span class="k281">Semaglutide</span></div>
<div class="t th" style="top:613px;left:574.6px;width:200px;text-align:center;"><span class="k261">&lt;2.4 </span><span class="k286">mg</span></div>
<div class="t th" style="top:627px;left:574.6px;width:200px;text-align:center;"><span class="k267">(n=144)</span></div>
<div class="t thl" style="top:613px;left:380.0px;"><span class="k273">Characteristics</span></div>
<div class="t td" style="top:649px;left:380.0px;"><span class="k272">Age, </span><span class="k285">years</span></div>
<div class="t td" style="top:649px;left:437.5px;width:200px;text-align:center;"><span class="k275">47 </span><span class="k282">(11)</span></div>
<div class="t td" style="top:649px;left:506.0px;width:200px;text-align:center;"><span class="k275">49 </span><span class="k263">(10)</span></div>
<div class="t td" style="top:649px;left:574.6px;width:200px;text-align:center;"><span class="k275">48 </span><span class="k263">(13)</span></div>
<div class="t td" style="top:668px;left:380.0px;"><span class="k274">Female, </span><span class="k295">n </span><span class="k226">(%)</span></div>
<div class="t td" style="top:668px;left:437.5px;width:200px;text-align:center;"><span class="k276">486 </span><span class="k267">(72.6)</span></div>
<div class="t td" style="top:668px;left:506.0px;width:200px;text-align:center;"><span class="k275">44 </span><span class="k267">(66.7)</span></div>
<div class="t td" style="top:668px;left:574.6px;width:200px;text-align:center;"><span class="k276">128 </span><span class="k267">(88.9)</span></div>
<div class="t tdb" style="top:687px;left:380.0px;"><span class="k259">Body </span><span class="k306">weight, </span><span class="k305">kg</span></div>
<div class="t tdb" style="top:687px;left:437.5px;width:200px;text-align:center;"><span class="k288">116.0 </span><span class="k282">(23.5)</span></div>
<div class="t tdb" style="top:687px;left:506.0px;width:200px;text-align:center;"><span class="k278">109.8 </span><span class="k282">(26.7)</span></div>
<div class="t tdb" style="top:687px;left:574.6px;width:200px;text-align:center;"><span class="k278">100.2 </span><span class="k282">(18.3)</span></div>
<div class="t tdb" style="top:706px;left:380.0px;">BMI, <span class="k339">kg/m</span><sup><span class="k288">2</span></sup></div>
<div class="t tdb" style="top:706px;left:437.5px;width:200px;text-align:center;"><span class="k278">40.9 </span><span class="k283">(7.0)</span></div>
<div class="t tdb" style="top:706px;left:506.0px;width:200px;text-align:center;"><span class="k278">38.1 </span><span class="k283">(7.3)</span></div>
<div class="t tdb" style="top:706px;left:574.6px;width:200px;text-align:center;"><span class="k278">36.1 </span><span class="k283">(5.4)</span></div>
<div class="t td" style="top:723px;left:380.0px;"><span class="k292">BMI </span><span class="k303">category</span></div>
<div class="t td" style="top:736px;left:380.0px;"><span class="k319">(kg/m</span><sup><span class="k288">2</span></sup><span class="k261">), </span><span class="k295">n </span><span class="k226">(%)</span></div>
<div class="t td" style="top:752px;left:391.9px;"><span class="k270">&lt;30</span></div>
<div class="t td" style="top:752px;left:437.5px;width:200px;text-align:center;"><span class="k272">1 </span><span class="k265">(0.1)</span></div>
<div class="t td" style="top:752px;left:506.0px;width:200px;text-align:center;"><span class="k280">0</span></div>
<div class="t td" style="top:752px;left:574.6px;width:200px;text-align:center;"><span class="k272">3 </span><span class="k265">(2.1)</span></div>
<div class="t td" style="top:771px;left:391.9px;"><span class="k272">≥30 </span><span class="k314">to </span><span class="k270">&lt;35</span></div>
<div class="t td" style="top:771px;left:437.5px;width:200px;text-align:center;"><span class="k276">134 </span><span class="k267">(20.0)</span></div>
<div class="t td" style="top:771px;left:506.0px;width:200px;text-align:center;"><span class="k275">25 </span><span class="k267">(37.9)</span></div>
<div class="t td" style="top:771px;left:574.6px;width:200px;text-align:center;"><span class="k275">74 </span><span class="k267">(51.4)</span></div>
<div class="t td" style="top:790px;left:391.9px;"><span class="k272">≥35 </span><span class="k314">to </span><span class="k270">&lt;40</span></div>
<div class="t td" style="top:790px;left:437.5px;width:200px;text-align:center;"><span class="k276">215 </span><span class="k267">(32.1)</span></div>
<div class="t td" style="top:790px;left:506.0px;width:200px;text-align:center;"><span class="k275">23 </span><span class="k267">(34.8)</span></div>
<div class="t td" style="top:790px;left:574.6px;width:200px;text-align:center;"><span class="k275">36 </span><span class="k267">(25.0)</span></div>
<div class="t td" style="top:810px;left:391.9px;"><span class="k275">≥40</span></div>
<div class="t td" style="top:810px;left:437.5px;width:200px;text-align:center;"><span class="k276">319 </span><span class="k267">(47.7)</span></div>
<div class="t td" style="top:810px;left:506.0px;width:200px;text-align:center;"><span class="k275">18 </span><span class="k267">(27.3)</span></div>
<div class="t td" style="top:810px;left:574.6px;width:200px;text-align:center;"><span class="k275">31 </span><span class="k267">(21.5)</span></div>
<div class="t tdb" style="top:828px;left:380.0px;"><span class="k291">Waist </span><span class="k289">circumference, </span><span class="k277">cm</span></div>
<div class="t tdb" style="top:828px;left:437.5px;width:200px;text-align:center;"><span class="k278">120.5 </span><span class="k282">(15.8)</span></div>
<div class="t tdb" style="top:828px;left:506.0px;width:200px;text-align:center;"><span class="k288">116.9 </span><span class="k282">(16.1)</span></div>
<div class="t tdb" style="top:828px;left:574.6px;width:200px;text-align:center;"><span class="k288">110.5 </span><span class="k282">(12.7)</span></div>
<div class="t td" style="top:846px;left:380.0px;"><span class="k278">Glycemic </span><span class="k295">status, n </span><span class="k226">(%)</span></div>
<div class="t td" style="top:865px;left:391.9px;"><span class="k308">Normoglycemia</span></div>
<div class="t td" style="top:865px;left:437.5px;width:200px;text-align:center;"><span class="k276">413 </span><span class="k267">(61.7)</span></div>
<div class="t td" style="top:865px;left:506.0px;width:200px;text-align:center;"><span class="k275">41 </span><span class="k267">(62.1)</span></div>
<div class="t td" style="top:865px;left:574.6px;width:200px;text-align:center;"><span class="k275">96 </span><span class="k267">(66.7)</span></div>
<div class="t td" style="top:884px;left:391.9px;"><span class="k291">Prediabetes</span></div>
<div class="t td" style="top:884px;left:437.5px;width:200px;text-align:center;"><span class="k276">256 </span><span class="k267">(38.3)</span></div>
<div class="t td" style="top:884px;left:506.0px;width:200px;text-align:center;"><span class="k275">25 </span><span class="k267">(37.9)</span></div>
<div class="t td" style="top:884px;left:574.6px;width:200px;text-align:center;"><span class="k275">48 </span><span class="k267">(33.3)</span></div>
<div class="t fn" style="top:906px;left:380.0px;"><span class="k290">Data are </span><span class="k301">mean </span><span class="k237">(SD) </span><span class="k290">unless </span><span class="k309">otherwise </span><span class="k301">stated. </span><span class="k290">Data are </span><span class="k326">from </span><span class="k310">the </span><span class="k321">in-trial</span></div>
<div class="t fn" style="top:918px;left:380.0px;"><span class="k308">observation </span><span class="k309">period. </span><span class="k292">BMI, </span><span class="k304">body </span><span class="k280">mass </span><span class="k297">index; </span><span class="k230">SD, </span><span class="k306">standard </span><span class="k307">deviation.</span></div>
<div class="t tt" style="top:188px;left:729.5px;"><b><span class="k282">Table </span><span class="k283">2.</span></b><span class="k256"> </span><span class="k270">Dose </span><span class="k321">summary</span></div>
<div class="t thc" style="top:209px;left:857.0px;width:200px;text-align:center;"><span class="k255">Final </span><span class="k239">dose </span><span class="k260">received </span><span class="k318">at</span></div>
<div class="t thc" style="top:223px;left:857.0px;width:200px;text-align:center;"><span class="k282">the </span><span class="k254">end </span><span class="k263">of </span><span class="k282">the </span>trial</div>
<div class="t th" style="top:245px;left:788.1px;width:200px;text-align:center;"><span class="k281">Semaglutide</span></div>
<div class="t th" style="top:258px;left:788.1px;width:200px;text-align:center;"><span class="k267">7.2 </span><span class="k286">mg</span></div>
<div class="t th" style="top:272px;left:788.1px;width:200px;text-align:center;"><span class="k267">(n=669)</span></div>
<div class="t th" style="top:245px;left:856.4px;width:200px;text-align:center;"><span class="k281">Semaglutide</span></div>
<div class="t th" style="top:258px;left:856.4px;width:200px;text-align:center;"><span class="k267">2.4 </span><span class="k286">mg</span></div>
<div class="t th" style="top:272px;left:856.4px;width:200px;text-align:center;"><span class="k267">(n=66)</span></div>
<div class="t th" style="top:245px;left:925.2px;width:200px;text-align:center;"><span class="k281">Semaglutide</span></div>
<div class="t th" style="top:258px;left:925.2px;width:200px;text-align:center;"><span class="k261">&lt;2.4 </span><span class="k286">mg</span></div>
<div class="t th" style="top:272px;left:925.2px;width:200px;text-align:center;"><span class="k267">(n=144)</span></div>
<div class="t thl" style="top:258px;left:730.0px;"><span class="k250">Dose </span><span class="k282">summary</span></div>
<div class="t td" style="top:297px;left:730.0px;"><span class="k292">Highest </span><span class="k277">dose </span><span class="k279">level </span><span class="k310">at</span></div>
<div class="t td" style="top:311px;left:730.0px;"><span class="k277">any </span><span class="k307">time </span><span class="k312">point </span><span class="k296">post-</span></div>
<div class="t td" style="top:324px;left:730.0px;">randomization, <span class="k289">n </span><span class="k221">(%)</span></div>
<div class="t td" style="top:348px;left:741.2px;"><span class="k268">7.2 </span><span class="k324">mg</span></div>
<div class="t td" style="top:348px;left:788.1px;width:200px;text-align:center;"><span class="k276">669 </span><span class="k267">(100)</span></div>
<div class="t td" style="top:348px;left:856.4px;width:200px;text-align:center;"><span class="k275">44 </span><span class="k267">(66.7)</span></div>
<div class="t td" style="top:348px;left:925.2px;width:200px;text-align:center;"><span class="k275">72 </span><span class="k267">(50.0)</span></div>
<div class="t td" style="top:369px;left:741.2px;"><span class="k268">2.4 </span><span class="k324">mg</span></div>
<div class="t td" style="top:369px;left:788.1px;width:200px;text-align:center;"><span class="k280">0</span></div>
<div class="t td" style="top:369px;left:856.4px;width:200px;text-align:center;"><span class="k275">22 </span><span class="k267">(33.3)</span></div>
<div class="t td" style="top:369px;left:925.2px;width:200px;text-align:center;"><span class="k275">31 </span><span class="k267">(21.5)</span></div>
<div class="t td" style="top:391px;left:741.2px;"><span class="k268">1.7 </span><span class="k324">mg</span></div>
<div class="t td" style="top:391px;left:788.1px;width:200px;text-align:center;"><span class="k280">0</span></div>
<div class="t td" style="top:391px;left:856.4px;width:200px;text-align:center;"><span class="k280">0</span></div>
<div class="t td" style="top:391px;left:925.2px;width:200px;text-align:center;"><span class="k275">25 </span><span class="k267">(17.4)</span></div>
<div class="t td" style="top:412px;left:741.2px;"><span class="k268">1.0 </span><span class="k324">mg</span></div>
<div class="t td" style="top:412px;left:788.1px;width:200px;text-align:center;"><span class="k280">0</span></div>
<div class="t td" style="top:412px;left:856.4px;width:200px;text-align:center;"><span class="k280">0</span></div>
<div class="t td" style="top:412px;left:925.2px;width:200px;text-align:center;"><span class="k275">14 </span><span class="k265">(9.7)</span></div>
<div class="t td" style="top:433px;left:741.2px;"><span class="k268">0.5 </span><span class="k324">mg</span></div>
<div class="t td" style="top:433px;left:788.1px;width:200px;text-align:center;"><span class="k280">0</span></div>
<div class="t td" style="top:433px;left:856.4px;width:200px;text-align:center;"><span class="k280">0</span></div>
<div class="t td" style="top:433px;left:925.2px;width:200px;text-align:center;"><span class="k272">2 </span><span class="k265">(1.4)</span></div>
<div class="t fn" style="top:455px;left:730.0px;"><span class="k292">Observed </span><span class="k302">data </span><span class="k290">are </span><span class="k326">from </span><span class="k310">the </span><span class="k315">in-trial </span><span class="k308">observation </span><span class="k309">period, </span><span class="k336">with</span></div>
<div class="t fn" style="top:467px;left:730.0px;"><span class="k297">percentages </span><span class="k288">based </span><span class="k305">on </span><span class="k307">randomized </span><span class="k308">participants. </span><span class="k272">Doses </span><span class="k318">reported </span><span class="k297">are</span></div>
<div class="t fn" style="top:480px;left:730.0px;"><span class="k288">based </span><span class="k305">on </span><span class="k310">the </span><span class="k297">last </span><span class="k288">dose </span><span class="k326">prior </span><span class="k317">to </span><span class="k302">visit </span><span class="k265">as </span><span class="k318">reported </span><span class="k305">on </span><span class="k310">the </span><span class="k292">dosage </span><span class="k331">form.</span></div>
<div class="t tt" style="top:184px;left:1429.5px;"><b><span class="k282">Table </span><span class="k283">3.</span></b><span class="k256"> </span><span class="k290">Overview </span><span class="k341">of </span><span class="k206">AEs </span>and <span class="k305">GI-related </span><span class="k199">AEs</span></div>
<div class="t thc" style="top:208px;left:1557.0px;width:200px;text-align:center;"><span class="k255">Final </span><span class="k239">dose </span><span class="k260">received </span><span class="k318">at</span></div>
<div class="t thc" style="top:222px;left:1557.0px;width:200px;text-align:center;"><span class="k282">the </span><span class="k254">end </span><span class="k263">of </span><span class="k282">the </span>trial</div>
<div class="t th" style="top:244px;left:1488.2px;width:200px;text-align:center;"><span class="k281">Semaglutide</span></div>
<div class="t th" style="top:257px;left:1488.2px;width:200px;text-align:center;"><span class="k267">7.2 </span><span class="k286">mg</span></div>
<div class="t th" style="top:271px;left:1488.2px;width:200px;text-align:center;"><span class="k267">(n=669)</span></div>
<div class="t th" style="top:244px;left:1556.4px;width:200px;text-align:center;"><span class="k281">Semaglutide</span></div>
<div class="t th" style="top:257px;left:1556.4px;width:200px;text-align:center;"><span class="k267">2.4 </span><span class="k286">mg</span></div>
<div class="t th" style="top:271px;left:1556.4px;width:200px;text-align:center;"><span class="k267">(n=66)</span></div>
<div class="t th" style="top:244px;left:1625.2px;width:200px;text-align:center;"><span class="k281">Semaglutide</span></div>
<div class="t th" style="top:257px;left:1625.2px;width:200px;text-align:center;"><span class="k261">&lt;2.4 </span><span class="k286">mg</span></div>
<div class="t th" style="top:271px;left:1625.2px;width:200px;text-align:center;"><span class="k267">(n=144)</span></div>
<div class="t thl" style="top:257px;left:1430.0px;"><span class="k219">AEs</span></div>
<div class="t td" style="top:293px;left:1430.0px;"><span class="k296">Total </span><span class="k221">AEs, </span><span class="k283">n </span><span class="k221">(%)</span></div>
<div class="t td" style="top:293px;left:1488.2px;width:200px;text-align:center;"><span class="k254">556 </span><span class="k248">(83.1)</span></div>
<div class="t td" style="top:293px;left:1556.4px;width:200px;text-align:center;"><span class="k254">64 </span><span class="k248">(97.0)</span></div>
<div class="t td" style="top:293px;left:1625.2px;width:200px;text-align:center;"><span class="k254">142 </span><span class="k248">(98.6)</span></div>
<div class="t td" style="top:312px;left:1430.0px;"><span class="k309">Mild </span><span class="k221">AEs, </span><span class="k283">n </span><span class="k221">(%)</span></div>
<div class="t td" style="top:312px;left:1488.2px;width:200px;text-align:center;"><span class="k254">514  </span><span class="k248">(76.8)</span></div>
<div class="t td" style="top:312px;left:1556.4px;width:200px;text-align:center;"><span class="k254">57  </span><span class="k248">(86.4)</span></div>
<div class="t td" style="top:312px;left:1625.2px;width:200px;text-align:center;"><span class="k254">131  </span><span class="k248">(91.0)</span></div>
<div class="t td" style="top:331px;left:1430.0px;"><span class="k266">Moderate </span><span class="k221">AEs, </span><span class="k259">n </span><span class="k221">(%)</span></div>
<div class="t td" style="top:331px;left:1488.2px;width:200px;text-align:center;"><span class="k254">275  </span><span class="k248">(41.1)</span></div>
<div class="t td" style="top:331px;left:1556.4px;width:200px;text-align:center;"><span class="k254">50  </span><span class="k248">(75.8)</span></div>
<div class="t td" style="top:331px;left:1625.2px;width:200px;text-align:center;"><span class="k254">101  </span><span class="k248">(70.1)</span></div>
<div class="t td" style="top:350px;left:1430.0px;"><span class="k221">SAEs, </span><span class="k283">n </span><span class="k221">(%)</span></div>
<div class="t td" style="top:350px;left:1488.2px;width:200px;text-align:center;"><span class="k254">35 </span><span class="k247">(5.2)</span></div>
<div class="t td" style="top:350px;left:1556.4px;width:200px;text-align:center;"><span class="k253">7 </span><span class="k248">(10.6)</span></div>
<div class="t td" style="top:350px;left:1625.2px;width:200px;text-align:center;"><span class="k254">12 </span><span class="k242">( </span><span class="k250">8.3)</span></div>
<div class="t td" style="top:366px;left:1430.0px;"><span class="k287">GI-related </span><span class="k221">AEs </span><span class="k293">in </span><span class="k239">≥10% </span><span class="k317">of</span></div>
<div class="t td" style="top:380px;left:1430.0px;"><span class="k294">the </span><span class="k307">trial </span><span class="k298">population, </span><span class="k283">n </span><span class="k221">(%)</span></div>
<div class="t td" style="top:396px;left:1442.1px;"><span class="k291">Constipation</span></div>
<div class="t td" style="top:396px;left:1488.2px;width:200px;text-align:center;"><span class="k254">133 </span><span class="k248">(19.9)</span></div>
<div class="t td" style="top:396px;left:1556.4px;width:200px;text-align:center;"><span class="k254">17 </span><span class="k248">(25.8)</span></div>
<div class="t td" style="top:396px;left:1625.2px;width:200px;text-align:center;"><span class="k254">51 </span><span class="k248">(35.4)</span></div>
<div class="t td" style="top:415px;left:1442.1px;"><span class="k290">Diarrhea</span></div>
<div class="t td" style="top:415px;left:1488.2px;width:200px;text-align:center;"><span class="k254">159 </span><span class="k248">(23.8)</span></div>
<div class="t td" style="top:415px;left:1556.4px;width:200px;text-align:center;"><span class="k254">29 </span><span class="k248">(43.9)</span></div>
<div class="t td" style="top:415px;left:1625.2px;width:200px;text-align:center;"><span class="k254">46 </span><span class="k248">(31.9)</span></div>
<div class="t td" style="top:434px;left:1442.1px;"><span class="k263">Nausea</span></div>
<div class="t td" style="top:434px;left:1488.2px;width:200px;text-align:center;"><span class="k254">235 </span><span class="k248">(35.1)</span></div>
<div class="t td" style="top:434px;left:1556.4px;width:200px;text-align:center;"><span class="k254">30 </span><span class="k248">(45.5)</span></div>
<div class="t td" style="top:434px;left:1625.2px;width:200px;text-align:center;"><span class="k254">90 </span><span class="k248">(62.5)</span></div>
<div class="t td" style="top:453px;left:1442.1px;"><span class="k304">Vomiting</span></div>
<div class="t td" style="top:453px;left:1488.2px;width:200px;text-align:center;"><span class="k254">133 </span><span class="k248">(19.9)</span></div>
<div class="t td" style="top:453px;left:1556.4px;width:200px;text-align:center;"><span class="k254">15 </span><span class="k248">(22.7)</span></div>
<div class="t td" style="top:453px;left:1625.2px;width:200px;text-align:center;"><span class="k254">58 </span><span class="k248">(40.3)</span></div>
<div class="t fn" style="top:474px;left:1430.0px;"><span class="k228">AEs </span><span class="k322">with </span><span class="k302">onset data </span><span class="k323">during </span><span class="k310">the </span><span class="k318">on-treatment </span><span class="k314">period </span><span class="k290">are </span><span class="k318">reported </span>here.</div>
<div class="t fn" style="top:487px;left:1430.0px;"><span class="k228">AEs </span><span class="k322">with </span><span class="k314">preferred </span><span class="k313">terms </span><span class="k318">reported </span><span class="k323">for </span><span class="k303">at </span><span class="k293">least </span><span class="k258">10% </span><span class="k311">of </span><span class="k315">participants</span></div>
<div class="t fn" style="top:499px;left:1430.0px;"><span class="k306">in </span><span class="k289">any </span><span class="k320">group. </span><span class="k234">AE, </span><span class="k289">adverse </span><span class="k293">event; </span><span class="k274">GI, </span><span class="k310">gastrointestinal; </span><span class="k223">SAE, </span><span class="k302">serious</span></div>
<div class="t fn" style="top:512px;left:1430.0px;"><span class="k289">adverse </span><span class="k298">event.</span></div>
<div class="t h2" style="top:517px;left:730.5px;"><span class="k278">Changes </span>in <span class="k289">body </span><span class="k340">weight</span></div>
<div class="t bul" style="top:538px;left:731.2px;"><span class="k332">•</span></div>
<div class="t body" style="top:537px;left:741.8px;"><span class="k308">Participants </span><span class="k314">in </span><span class="k320">the </span><span class="k277">7.2 </span><span class="k315">mg, </span><span class="k277">2.4 </span><span class="k315">mg, </span><span class="k307">and </span><span class="k272">&lt;2.4 </span><span class="k329">mg </span><span class="k332">final</span></div>
<div class="t body" style="top:553px;left:741.8px;"><span class="k292">dose </span><span class="k319">groups </span><span class="k291">achieved </span><span class="k319">similar </span><span class="k318">estimated </span><span class="k322">reductions</span></div>
<div class="t body" style="top:569px;left:741.8px;"><span class="k314">in </span><span class="k313">body </span><span class="k328">weight </span><span class="k309">at </span><span class="k295">week </span><span class="k275">72  </span><span class="k253">(–20.6%,–18.9%, </span><span class="k322">and</span></div>
<div class="t body" style="top:586px;left:741.8px;"><span class="k255">–19.8%, </span><span class="k297">respectively) </span><span class="k239">(</span><b><span class="k288">Figure </span><span class="k254">1A</span></b><span class="k255">).</span></div>
<div class="t bul" style="top:607px;left:731.2px;"><span class="k332">•</span></div>
<div class="t body" style="top:606px;left:741.8px;"><span class="k308">Participants </span><span class="k314">in </span><span class="k320">the </span><span class="k272">&lt;2.4 </span><span class="k329">mg </span><span class="k320">final </span><span class="k292">dose </span><span class="k345">group</span></div>
<div class="t body" style="top:622px;left:741.8px;"><span class="k291">achieved </span><span class="k315">faster </span><span class="k326">initial </span><span class="k328">weight </span><span class="k281">loss, </span><span class="k321">plateauing </span><span class="k333">at</span></div>
<div class="t body" style="top:639px;left:741.8px;"><span class="k295">week </span><span class="k277">48, </span><span class="k313">compared </span><span class="k335">with </span><span class="k320">the </span><span class="k277">7.2 </span><span class="k329">mg </span><span class="k320">final </span><span class="k299">dose</span></div>
<div class="t body" style="top:655px;left:741.8px;"><span class="k323">group, </span><span class="k337">for </span><span class="k333">whom </span><span class="k268">a </span><span class="k313">plateau </span><span class="k280">was </span><span class="k333">not </span><span class="k304">yet </span><span class="k311">observed</span></div>
<div class="t body" style="top:671px;left:741.8px;"><span class="k309">at </span><span class="k295">week </span><span class="k283">72.</span></div>
<div class="t h2" style="top:710px;left:730.5px;"><span class="k278">Changes </span>in <span class="k342">BMI</span></div>
<div class="t bul" style="top:731px;left:731.2px;"><span class="k332">•</span></div>
<div class="t body" style="top:730px;left:741.8px;"><span class="k302">Similar </span><span class="k319">patterns, </span><span class="k313">compared </span><span class="k335">with </span><span class="k320">the </span><span class="k313">body </span><span class="k340">weight</span></div>
<div class="t body" style="top:746px;left:741.8px;"><span class="k313">reductions, </span><span class="k304">were </span><span class="k305">observed </span><span class="k314">in </span><span class="k299">weekly </span><span class="k303">BMI </span><span class="k322">reductions</span></div>
<div class="t body" style="top:763px;left:741.8px;"><span class="k314">in </span><span class="k301">all </span><span class="k319">groups </span><span class="k309">despite </span><span class="k336">different </span><span class="k299">baseline </span><span class="k303">BMI </span><span class="k314">in </span><span class="k339">the</span></div>
<div class="t body" style="top:779px;left:741.8px;"><span class="k277">7.2 </span><span class="k315">mg, </span><span class="k277">2.4 </span><span class="k315">mg, </span><span class="k307">and </span><span class="k272">&lt;2.4 </span><span class="k329">mg </span><span class="k320">final </span><span class="k292">dose </span><span class="k328">groups</span></div>
<div class="t body" style="top:794px;left:741.8px;"><span class="k239">(</span><b><span class="k288">Figure </span><span class="k237">1B</span></b><span class="k282">). </span><span class="k243">As </span><span class="k335">with </span><span class="k313">body </span><span class="k328">weight </span><span class="k313">reductions, </span><span class="k275">a</span></div>
<div class="t body" style="top:811px;left:741.8px;"><span class="k313">plateau </span><span class="k314">in </span><span class="k303">BMI </span><span class="k324">reduction </span><span class="k280">was </span><span class="k333">not </span><span class="k298">reached </span><span class="k314">in </span><span class="k339">the</span></div>
<div class="t body" style="top:828px;left:741.8px;"><span class="k277">7.2 </span><span class="k329">mg </span><span class="k333">group.</span></div>
<div class="t bul" style="top:849px;left:731.2px;"><span class="k332">•</span></div>
<div class="t body" style="top:848px;left:741.8px;"><span class="k302">Estimated </span><span class="k317">reductions </span><span class="k314">in </span><span class="k303">BMI </span><span class="k304">were </span><span class="k327">similar</span></div>
<div class="t body" style="top:864px;left:741.8px;"><span class="k315">between </span><span class="k319">groups </span><span class="k309">at </span><span class="k295">week </span><span class="k277">72, </span><span class="k335">with </span><span class="k322">reductions</span></div>
<div class="t body" style="top:881px;left:741.8px;"><span class="k321">of </span><span class="k261">–8.2 </span><span class="k362">kg/m</span><sup><span class="k293">2</span></sup><span class="k263">,–7.5 </span><span class="k362">kg/m</span><sup><span class="k293">2</span></sup><span class="k266">, </span><span class="k307">and </span><span class="k261">–7.9 </span><span class="k362">kg/m</span><sup><span class="k293">2</span></sup><span class="k260"> </span><span class="k337">for </span><span class="k339">the</span></div>
<div class="t body" style="top:897px;left:741.8px;"><span class="k277">7.2 </span><span class="k315">mg, </span><span class="k277">2.4 </span><span class="k315">mg, </span><span class="k307">and </span><span class="k272">&lt;2.4 </span><span class="k329">mg </span><span class="k320">final </span><span class="k292">dose </span><span class="k320">groups,</span></div>
<div class="t body" style="top:913px;left:741.8px;"><span class="k305">respectively.</span></div>
<div class="t h2" style="top:183px;left:1080.8px;"><span class="k297">Safety</span></div>
<div class="t bul" style="top:205px;left:1080.2px;"><span class="k327">•</span></div>
<div class="t body" style="top:203px;left:1092.2px;"><span class="k273">A </span><span class="k321">higher </span><span class="k334">proportion </span><span class="k314">of participants </span><span class="k303">experienced </span><span class="k199">AEs</span></div>
<div class="t body" style="top:219px;left:1092.2px;"><span class="k308">in </span><span class="k313">the </span><span class="k271">2.4 </span><span class="k320">mg </span><span class="k249">(97.0%) </span><span class="k299">and </span><span class="k265">&lt;2.4 </span><span class="k320">mg </span><span class="k249">(98.6%) </span><span class="k314">final </span><span class="k290">dose</span></div>
<div class="t body" style="top:236px;left:1092.2px;"><span class="k310">groups </span><span class="k304">compared </span><span class="k328">with </span><span class="k313">the </span><span class="k271">7.2 </span><span class="k320">mg </span><span class="k314">final </span><span class="k284">dose </span><span class="k336">group</span></div>
<div class="t body" style="top:252px;left:1092.2px;"><span class="k249">(83.1%) </span><span class="k234">(</span><b><span class="k280">Table 3</span></b><span class="k251">).</span></div>
<div class="t bul" style="top:277px;left:1080.2px;"><span class="k327">•</span></div>
<div class="t body" style="top:275px;left:1090.3px;"><span class="k301">Participants </span><span class="k308">in </span><span class="k313">the </span><span class="k271">2.4 </span><span class="k320">mg </span><span class="k299">and </span><span class="k265">&lt;2.4 </span><span class="k320">mg </span><span class="k314">final </span><span class="k290">dose</span></div>
<div class="t body" style="top:292px;left:1090.3px;"><span class="k310">groups </span><span class="k322">reported </span><span class="k314">more </span><span class="k316">gastrointestinal-related </span><span class="k207">AEs,</span></div>
<div class="t body" style="top:308px;left:1090.3px;"><span class="k304">compared </span><span class="k328">with </span><span class="k313">the </span><span class="k271">7.2 </span><span class="k320">mg </span><span class="k314">final </span><span class="k284">dose </span><span class="k325">group.</span></div>
<div class="t dash" style="top:331px;left:1092.5px;"><span class="k238">–</span></div>
<div class="t body" style="top:330px;left:1104.3px;"><span class="k263">The </span><span class="k323">majority </span><span class="k314">of </span><span class="k313">the </span><span class="k316">gastrointestinal-related </span><span class="k199">AEs</span></div>
<div class="t body" style="top:346px;left:1104.3px;"><span class="k295">were </span><span class="k324">mild </span><span class="k321">to </span><span class="k314">moderate </span><span class="k308">in </span><span class="k297">severity, </span><span class="k299">and </span><span class="k294">rates </span><span class="k343">of</span></div>
<div class="t body" style="top:362px;left:1104.3px;"><span class="k328">drug </span><span class="k318">discontinuation </span><span class="k309">remained </span><span class="k303">low </span><span class="k330">for </span><span class="k295">all </span><span class="k325">final</span></div>
<div class="t body" style="top:379px;left:1104.3px;"><span class="k284">dose </span><span class="k312">groups.</span></div>
<div class="t fig" style="top:410px;left:1085.7px;"><b><span class="k266">Figure </span><span class="k270">1.</span></b></div>
<div class="t fig" style="top:410px;left:1143.2px;"><span class="k281">Change </span><span class="k311">in </span><span class="k309">body </span><span class="k325">weight </span><span class="k238">(A) </span><span class="k304">and </span><span class="k316">mean</span></div>
<div class="t fig" style="top:426px;left:1143.2px;"><span class="k299">BMI </span><span class="k285">by </span><span class="k291">week </span><span class="k242">(B) </span><span class="k285">by </span><span class="k317">final </span><span class="k288">dose </span><span class="k325">groups</span></div>
<div class="t fig" style="top:442px;left:1143.2px;"><span class="k318">of participants </span><span class="k314">randomized </span><span class="k325">to </span><span class="k275">7.2 </span><span class="k326">mg </span><span class="k338">in</span></div>
<div class="t fig" style="top:459px;left:1143.2px;"><span class="k199">STEP </span><span class="k221">UP</span></div>
<div class="t fig" style="top:476px;left:1093.5px;"><span class="k245">A.</span></div>
<div class="t fig" style="top:686px;left:1093.5px;"><span class="k246">B.</span></div>
<div class="t fn" style="top:886px;left:1085.4px;"><span class="k292">Observed </span><span class="k302">data </span><span class="k290">are </span><span class="k326">from </span><span class="k310">the </span><span class="k315">in-trial </span><span class="k308">observation </span><span class="k314">period </span>and <span class="k328">treatment</span></div>
<div class="t fn" style="top:897px;left:1085.4px;"><span class="k299">policy </span><span class="k305">estimand. </span><sup><span class="k256">†</span></sup><span class="k290">Data are </span><span class="k308">estimated </span><span class="k290">means. </span>Error <span class="k296">bars </span><span class="k290">are </span><span class="k280">± </span><span class="k226">SEM.</span></div>
<div class="t fn" style="top:909px;left:1085.4px;"><span class="k292">BMI, </span><span class="k304">body </span><span class="k280">mass </span><span class="k297">index; </span><span class="k234">SEM, </span><span class="k306">standard </span><span class="k320">error </span><span class="k311">of </span><span class="k310">the </span><span class="k302">mean.</span></div>
<div class="t h2" style="top:539px;left:1431.6px;"><span class="k333">Limitations</span></div>
<div class="t bul" style="top:568px;left:1430.7px;"><span class="k329">•</span></div>
<div class="t body" style="top:566px;left:1443.7px;"><span class="k273">This </span><span class="k277">is </span><span class="k265">a </span><i><span class="k271">post </span><span class="k258">hoc</span></i><span class="k259"> </span><span class="k284">analysis, </span><span class="k303">and </span><span class="k298">all </span><span class="k318">participants </span><span class="k310">were</span></div>
<div class="t body" style="top:583px;left:1443.7px;"><span class="k322">intended </span><span class="k325">to </span><span class="k291">be </span><span class="k319">treated </span><span class="k332">with </span><span class="k314">semaglutide </span><span class="k274">7.2 </span><span class="k329">mg.</span></div>
<div class="t h1" style="top:623px;left:1434.5px;"><span class="k267">Conclusion</span></div>
<div class="t bul" style="top:648px;left:1434.0px;"><span class="k329">•</span></div>
<div class="t body" style="top:647px;left:1447.4px;"><span class="k321">In </span><span class="k313">this </span><i><span class="k271">post </span><span class="k258">hoc</span></i><span class="k259"> </span><span class="k318">exploratory </span><span class="k284">analysis, </span><span class="k322">participants</span></div>
<div class="t body" style="top:664px;left:1447.4px;"><span class="k313">randomized </span><span class="k325">to </span><span class="k314">semaglutide </span><span class="k274">7.2 </span><span class="k325">mg </span><span class="k291">achieved</span></div>
<div class="t body" style="top:680px;left:1447.4px;"><span class="k316">similar </span><span class="k306">percentage </span><span class="k309">body </span><span class="k325">weight </span><span class="k319">reductions</span></div>
<div class="t body" style="top:696px;left:1447.4px;"><span class="k321">independent </span><span class="k318">of </span><span class="k330">their </span><span class="k317">final </span><span class="k288">dose </span><span class="k306">at </span><span class="k317">the </span><span class="k304">end </span><span class="k318">of </span><span class="k335">the</span></div>
<div class="t body" style="top:713px;left:1447.4px;"><span class="k310">study, </span><span class="k327">although </span><span class="k317">the </span><span class="k274">7.2 </span><span class="k325">mg </span><span class="k317">final </span><span class="k288">dose </span><span class="k328">group </span><span class="k337">did</span></div>
<div class="t body" style="top:729px;left:1447.4px;"><span class="k330">not </span><span class="k305">appear </span><span class="k325">to </span><span class="k285">have </span><span class="k295">reached </span><span class="k265">a </span><span class="k325">weight </span><span class="k280">loss </span><span class="k311">plateau.</span></div>
<div class="t bul" style="top:755px;left:1434.0px;"><span class="k329">•</span></div>
<div class="t body" style="top:754px;left:1447.4px;"><span class="k272">Those </span><span class="k312">in </span><span class="k317">the </span><span class="k269">&lt;2.4 </span><span class="k325">mg </span><span class="k303">and </span><span class="k274">2.4 </span><span class="k325">mg </span><span class="k317">final </span><span class="k288">dose </span><span class="k324">groups</span></div>
<div class="t body" style="top:770px;left:1447.4px;"><span class="k303">had </span><span class="k314">lower </span><span class="k296">baseline </span><span class="k325">weight </span><span class="k303">and </span><span class="k293">BMI, </span><span class="k303">and </span><span class="k335">reported</span></div>
<div class="t body" style="top:787px;left:1447.4px;"><span class="k319">more </span><span class="k327">mild-to-moderate </span><span class="k209">AEs </span><span class="k321">than </span><span class="k306">those </span><span class="k312">in </span><span class="k335">the</span></div>
<div class="t body" style="top:803px;left:1447.4px;"><span class="k274">7.2 </span><span class="k325">mg </span><span class="k317">final </span><span class="k288">dose </span><span class="k329">group.</span></div>
<div class="t bul" style="top:829px;left:1434.0px;"><span class="k329">•</span></div>
<div class="t body" style="top:828px;left:1447.4px;"><span class="k321">In </span><span class="k317">the </span><span class="k274">2.4 </span><span class="k325">mg </span><span class="k303">and </span><span class="k269">&lt;2.4 </span><span class="k325">mg </span><span class="k317">final </span><span class="k288">dose </span><span class="k317">groups,</span></div>
<div class="t body" style="top:844px;left:1447.4px;"><span class="k258">66.7% </span><span class="k303">and </span><span class="k258">50.0% </span><span class="k292">received </span><span class="k317">the </span><span class="k274">7.2 </span><span class="k325">mg </span><span class="k288">dose </span><span class="k306">at </span><span class="k298">any</span></div>
<div class="t body" style="top:861px;left:1447.4px;"><span class="k332">point </span><span class="k334">during </span><span class="k317">the </span><span class="k329">trial.</span></div>
<div class="t bul" style="top:886px;left:1434.0px;"><span class="k329">•</span></div>
<div class="t body" style="top:885px;left:1447.4px;"><span class="k264">These </span><span class="k306">data </span><span class="k307">underscore </span><span class="k318">individual </span><span class="k308">differences </span><span class="k338">in</span></div>
<div class="t body" style="top:902px;left:1447.4px;"><span class="k291">responsiveness </span><span class="k325">to </span><span class="k315">semaglutide.</span></div>
<div class="t foot" style="top:944px;left:32.0px;"><sup><span class="k295">1</span></sup>University <span class="k315">of </span><span class="k295">Alabama </span>at <span class="k306">Birmingham, </span><span class="k308">Birmingham, </span><span class="k276">AL, </span><span class="k268">USA; </span><sup><span class="k295">2</span></sup>Vestfold <span class="k302">Hospital </span><span class="k297">Trust, </span><span class="k289">Tønsberg, </span><span class="k299">Norway; </span><sup><span class="k295">3</span></sup><span class="k295">Novo </span><span class="k304">Nordisk </span><span class="k279">A/S, </span><span class="k290">Bagsværd, </span><span class="k299">Denmark; </span><sup><span class="k295">4</span></sup><span class="k295">Novo </span><span class="k301">Nordisk </span><span class="k295">Global </span><span class="k289">Business </span><span class="k285">Services, </span><span class="k297">Bangalore, </span><span class="k302">India; </span><sup><span class="k295">5</span></sup><span class="k296">Velocity </span><span class="k293">Clinical </span><span class="k284">Research </span>at <span class="k297">Medical </span><span class="k293">City, </span><span class="k291">Dallas, </span><span class="k266">TX, </span><span class="k268">USA; </span><sup><span class="k295">6</span></sup>University <span class="k308">of </span><span class="k283">Texas </span><span class="k301">Southwestern </span><span class="k297">Medical </span><span class="k288">Center, </span><span class="k291">Dallas, </span><span class="k266">TX, </span><span class="k265">USA.</span></div>
<div class="t foot" style="top:951px;left:32.0px;"><span class="k288">This </span><span class="k301">study </span><span class="k288">was </span><span class="k307">funded </span><span class="k292">by </span><span class="k295">Novo </span><span class="k304">Nordisk </span><span class="k277">A/S </span><span class="k298">and </span><span class="k290">is </span><span class="k302">registered </span><span class="k310">with </span><span class="k294">ClinicalTrials.gov </span><span class="k282">(NCT05646706). </span><span class="k295">Novo </span><span class="k301">Nordisk </span><span class="k296">employees </span><span class="k298">were </span>involved <span class="k303">in </span><span class="k298">all </span><span class="k291">aspects </span><span class="k305">of </span><span class="k304">the </span><span class="k301">study </span><span class="k302">conduct </span><span class="k298">and </span><span class="k294">are </span><span class="k301">co-authors </span><span class="k305">of </span><span class="k303">this </span><span class="k296">poster. </span><span class="k297">Medical </span><span class="k313">writing </span><span class="k308">support </span><span class="k288">was </span><span class="k303">provided </span><span class="k292">by </span><span class="k289">Ben </span><span class="k297">McNeill, </span><span class="k279">PhD, </span><span class="k315">of </span><span class="k298">Apollo, </span><span class="k267">OPEN </span>Health Communications, <span class="k298">and </span><span class="k307">funded </span><span class="k292">by </span><span class="k298">Novo</span></div>
<div class="t foot" style="top:957px;left:32.0px;"><span class="k304">Nordisk </span><span class="k279">A/S, </span><span class="k303">in </span><span class="k293">accordance </span><span class="k310">with </span><span class="k293">Good </span><span class="k301">Publication </span><span class="k291">Practice </span><span class="k264">(GPP) </span><span class="k302">guidelines </span><span class="k301">(ismpp.org/gpp-2022).</span></div>
<div class="t foot" style="top:964px;left:32.0px;"><span class="k295">Presented </span>at <span class="k304">the </span><span class="k291">43</span><sup><span class="k310">rd</span></sup><span class="k313"> </span><span class="k298">Annual </span><span class="k305">Meeting </span><span class="k308">of </span><span class="k285">The </span><span class="k296">Obesity </span><span class="k289">Society </span><span class="k265">(TOS) </span><span class="k302">held </span>at <span class="k293">ObesityWeek</span><sup><span class="k316">®</span></sup><span class="k285">, </span><span class="k301">November </span><span class="k282">4–7, </span><span class="k294">2025; </span>Atlanta, <span class="k272">GA, </span><span class="k265">USA.</span></div>
<div class="t footb" style="top:944px;left:1050.0px;width:700px;text-align:right;"><span class="k303">References:</span></div>
<div class="t foot" style="top:955px;left:1050.0px;width:700px;text-align:right;"><span class="k281">(1) </span><span class="k279">) </span><span class="k302">Bergmann </span><span class="k272">NC </span><span class="k301">et </span><span class="k292">al. </span><i><span class="k279">Diabetes </span><span class="k267">Obes </span><span class="k288">Metab</span></i><span class="k283"> </span><span class="k286">2023;25(1):18–35;</span></div>
<div class="t foot" style="top:961px;left:1050.0px;width:700px;text-align:right;"><span class="k281">(2) </span><span class="k304">Wharton </span><span class="k265">S, </span><span class="k301">et </span><span class="k292">al. Lancet </span><span class="k295">Diabetes </span><span class="k299">Endocrinol </span><span class="k289">2025; </span><span class="k291">DOI: </span><span class="k288">10.1016/S2213-8587(25)00226-8 </span><span class="k294">[Epub </span><span class="k295">ahead </span><span class="k305">of </span><span class="k319">print]</span></div>
</body></html>
